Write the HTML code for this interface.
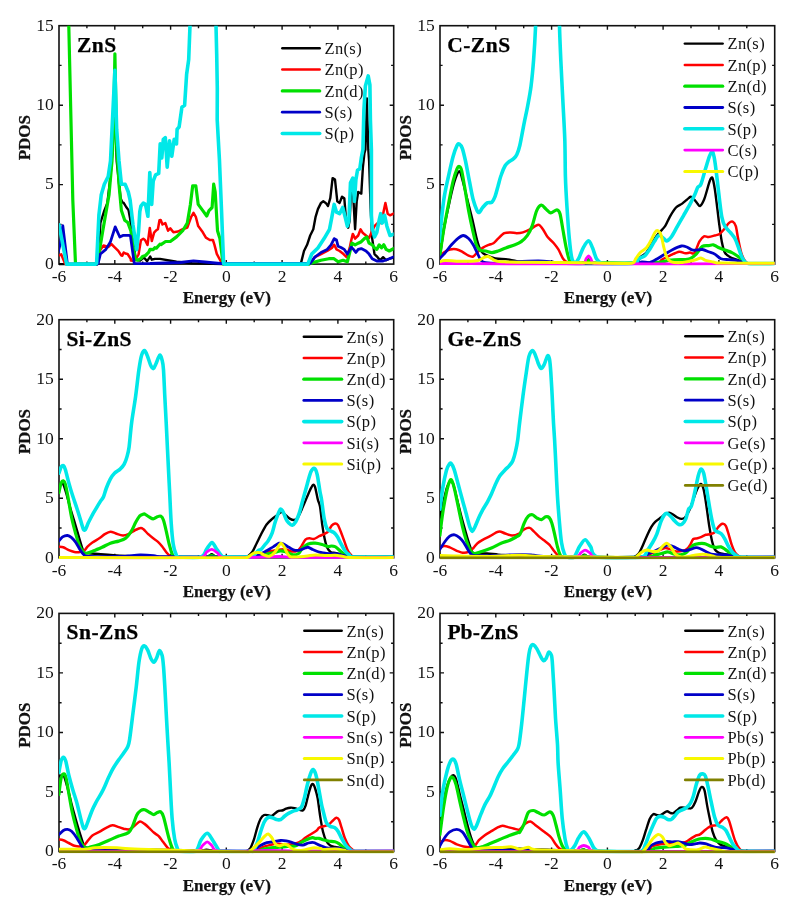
<!DOCTYPE html>
<html><head><meta charset="utf-8"><title>PDOS</title>
<style>
html,body{margin:0;padding:0;background:#fff;width:806px;height:903px;overflow:hidden}
svg{display:block;will-change:transform}
text{font-family:"Liberation Serif",serif;fill:#111}
.t{font-size:17.5px}
.b{font-size:17px;font-weight:bold;stroke:#111;stroke-width:0.25px}
.h{font-size:21.5px;font-weight:bold;fill:#000;stroke:#000;stroke-width:0.25px}
.l{font-size:16.5px;letter-spacing:0.35px}
</style></head><body>
<svg width="806" height="903" viewBox="0 0 806 903">
<rect width="806" height="903" fill="#fff"/>
<rect x="59" y="25.7" width="334.7" height="238.4" fill="none" stroke="#111" stroke-width="1.6"/>
<path d="M86.9 264.1v-2.6M86.9 25.7v2.6M114.8 264.1v-4.0M114.8 25.7v4.0M142.7 264.1v-2.6M142.7 25.7v2.6M170.6 264.1v-4.0M170.6 25.7v4.0M198.5 264.1v-2.6M198.5 25.7v2.6M226.3 264.1v-4.0M226.3 25.7v4.0M254.2 264.1v-2.6M254.2 25.7v2.6M282.1 264.1v-4.0M282.1 25.7v4.0M310 264.1v-2.6M310 25.7v2.6M337.9 264.1v-4.0M337.9 25.7v4.0M365.8 264.1v-2.6M365.8 25.7v2.6M59 224.4h2.6M393.7 224.4h-2.6M59 184.6h4.0M393.7 184.6h-4.0M59 144.9h2.6M393.7 144.9h-2.6M59 105.2h4.0M393.7 105.2h-4.0M59 65.4h2.6M393.7 65.4h-2.6" stroke="#111" stroke-width="1.4" fill="none"/>
<clipPath id="cp0"><rect x="59" y="25.7" width="334.7" height="240.2"/></clipPath>
<g clip-path="url(#cp0)" fill="none" stroke-linejoin="round" stroke-linecap="round">
<polyline points="58,264.1 97.5,264.1 98.1,263.3 100.4,223 104.3,210.6 107.4,202.9 110.5,176.5 112.8,145.5 114.6,98.3 116.7,161 120.6,198.2 122.3,202.3 123.7,202.9 126.2,207 128.5,210.1 130.1,218.6 132,232.6 134.3,246.5 135.5,259.7 140.2,260.5 144,257.4 147.1,261.2 150.2,256.6 151.8,259.7 154.9,258.9 160,258.9 176.5,261.7 192,263.2 223,264.1 300,264.1 300.9,263.4 304,251 307.1,244.8 310.2,235.5 313.3,229.3 315.6,216.8 317.9,209.1 321,202.9 323.3,201.3 325.7,202.9 328,206 330.3,198.2 332.6,178.1 335,179.6 337.3,201.3 339.6,202.9 342,196.7 344.3,198.2 345.8,216.8 348.2,227.7 349.7,220 351.3,185.8 352.8,188.9 355.1,229.3 356.7,201.3 358.2,192 361.3,193.6 362.9,167.2 364.4,153.3 365.4,149.7 366.9,98.4 368.3,149.7 369.1,161 370.6,207.5 372.2,238.6 374.5,254.1 377.6,257.2 380,260.3 383.1,257.2 386.2,260.3 389.3,258.7 395,257.2" stroke="#000000" stroke-width="2.4"/>
<polyline points="58,255.8 61.2,254.3 65,263.6 66,264.1 97,264.1 98,262 99.7,250.9 103.5,245.5 108.2,247 111.3,244 115.2,247.8 118.3,250.9 120,253.5 121.4,255.6 122.3,255.8 123.7,252.5 125.4,253.5 127.6,254 130.7,258.7 130.9,260.5 133.8,261 136.3,258.1 138.6,254.3 140.9,240.3 143.3,238.8 145,240 147.5,245 149.8,227.9 151.8,241.1 154.1,232.6 156.4,230.2 157.9,229.2 159.5,220.2 160.7,219.9 162.5,224.5 165.3,223 168,230.7 170.3,228.4 173.4,232.3 178,231.5 182.7,229.2 187.3,227.6 191.2,216.8 193.5,212.9 195.8,216.8 198.2,226.1 202.8,232.3 205.9,237.7 209.8,240 212.9,240 214.4,244.6 216.8,253.9 221.4,262.5 223,264.1 309,264.1 310.2,263.4 314.8,257.2 321,254.1 327.2,251 331.9,247.9 334.2,244.8 336.5,249.4 339.6,251 343.5,254.1 346.6,257.2 349.7,247.9 351.3,240.1 352.8,233.9 355.1,238.6 358.2,235.5 360.6,229.3 362.9,233.1 366,235.5 369.1,238 372.2,230.8 374.5,226.2 377.6,223.1 381.5,223.1 383.8,210.6 385.4,202.9 387.7,213.7 390,215.3 395,213" stroke="#ff0000" stroke-width="2.5"/>
<polyline points="68.2,0 68.8,26 72.8,200 75.5,264.1 96.5,264.1 98.1,258.7 102.8,230.8 109,195.1 112,161 113.6,130 114.9,53.9 116.7,145.5 119,184.3 121.4,210.6 124.7,220.2 127.8,222.5 130.9,231 133.2,246.5 135.5,259.7 138,260.1 140.8,258.6 142.5,256.6 145.5,255.5 148.6,252.4 150.1,249.3 153.3,249.6 154.8,247.7 156.4,248.1 159.9,244.2 161,244.6 165.6,241.5 170.3,241.5 176.5,236.9 182.7,230.7 187.3,223 190.4,204.4 192.7,185.8 195.8,185.8 198.2,204.4 202.8,210.6 206.7,216 209,210.6 212.1,207.5 213.7,184.2 215.2,192 217.5,230.7 219.9,238.5 223,263.2 223.5,264.1 309,264.1 310.2,263.4 321,260.3 328.8,258.7 334,258.7 338.1,261.8 343,260.3 347.4,261.8 349.7,252.5 352,243.2 355.1,244.8 358.2,243.2 361.3,241.7 364.4,238.6 366.8,237 369.1,243.2 372.2,244.8 374.5,247.9 376.8,249.4 379.2,244.8 381.5,247.9 383.8,244.8 386.2,249.4 389.3,251 395,247.9" stroke="#00e000" stroke-width="3.2"/>
<polyline points="58,252.7 60.4,243.4 62.8,225.6 67.4,264.1 97.2,264.1 98.1,263.3 100.4,254 105.9,249.4 110.5,241.6 115.2,226.9 119.8,237 122.9,235.4 128.3,235.4 129.3,235.3 130.5,236.4 134.3,263.6 150,263.5 180,262.5 193.5,260.9 205,262 220,263.5 310.2,263.4 314.8,257.2 321,252.5 327.2,249.4 331.1,244.8 334.2,238.6 336.5,240 338.1,246.3 341,247.5 344.3,249.4 347.4,254.1 351.3,247.1 353.5,249.4 355.9,252.5 358.2,249.4 361.3,248.6 366,251 369.1,254.1 372.2,258.7 376.8,261 383.1,261 389.3,258.7 395,256.4" stroke="#0000c8" stroke-width="2.8"/>
<polyline points="58,224.8 59,224.8 66.6,264.1 95.3,264.1 96.6,263.3 98.9,215.3 101.2,195.1 104.3,184.3 108.2,176.5 110.5,161 112,130 114.9,70.4 116.7,130 119,161 121.4,184.3 125.2,184.3 128.3,192 130.1,200 133,225 136.7,249.6 138.6,231 139.8,211.6 140.9,206.2 143.3,203.1 145.5,204.4 147.9,216.3 149.8,172.6 151.7,204.4 153.2,181.1 155.6,174.9 158.7,173.4 160.2,143.9 161.8,157.9 163.3,139.3 165.3,137.7 167.2,167.2 169.5,140.8 171.8,156.3 174.2,139.3 176.5,143.9 177.1,129.2 179.1,127.1 181.9,107.3 184.6,105.3 186.6,74.6 188.7,59.6 190,25.5 190.5,0 215.5,0 216,25.5 216.7,54.1 217.3,88.2 217.2,120 219.4,159 221.5,210 223.6,263.5 224,264.1 307.8,264.1 311.7,254.1 317.9,247.9 324.1,238.6 329.5,229.3 331.9,216.8 334.2,204.4 336.5,212.2 339.6,213.7 342.7,207.5 345.1,216.8 347.4,226.2 348.9,220 350.5,182.7 352.8,178.1 354.4,201.3 355.9,179.6 357.5,170.3 359.8,168.8 361.3,157.9 362.9,149.7 363.9,109.8 365.4,85.9 368.2,75.9 369.9,84.9 370.4,119.8 371.4,149.7 371.4,215.3 372.2,227.7 374.5,237 376.8,232.4 379.2,220 380.7,213.7 382.3,223.1 384.6,215.3 386.9,226.2 390,235.5 395,233.9" stroke="#00e8e8" stroke-width="3.6"/>
</g>
<text x="53.8" y="268.9" class="t" text-anchor="end">0</text>
<text x="53.8" y="189.4" class="t" text-anchor="end">5</text>
<text x="53.8" y="110" class="t" text-anchor="end">10</text>
<text x="53.8" y="30.5" class="t" text-anchor="end">15</text>
<text x="59" y="281.9" class="t" text-anchor="middle">-6</text>
<text x="114.8" y="281.9" class="t" text-anchor="middle">-4</text>
<text x="170.6" y="281.9" class="t" text-anchor="middle">-2</text>
<text x="226.3" y="281.9" class="t" text-anchor="middle">0</text>
<text x="282.1" y="281.9" class="t" text-anchor="middle">2</text>
<text x="337.9" y="281.9" class="t" text-anchor="middle">4</text>
<text x="393.7" y="281.9" class="t" text-anchor="middle">6</text>
<text x="226.9" y="303.3" class="b" text-anchor="middle">Energy (eV)</text>
<text transform="translate(30.4,137.7) rotate(-90)" class="b" text-anchor="middle">PDOS</text>
<text x="77" y="52.2" class="h" letter-spacing="0.5">ZnS</text>
<line x1="282.3" y1="48.3" x2="319.7" y2="48.3" stroke="#000000" stroke-width="2.4" stroke-linecap="round"/>
<text x="324.5" y="54" class="l">Zn(s)</text>
<line x1="282.3" y1="69.6" x2="319.7" y2="69.6" stroke="#ff0000" stroke-width="2.5" stroke-linecap="round"/>
<text x="324.5" y="75.3" class="l">Zn(p)</text>
<line x1="282.3" y1="90.9" x2="319.7" y2="90.9" stroke="#00e000" stroke-width="3.2" stroke-linecap="round"/>
<text x="324.5" y="96.6" class="l">Zn(d)</text>
<line x1="282.3" y1="112.2" x2="319.7" y2="112.2" stroke="#0000c8" stroke-width="2.8" stroke-linecap="round"/>
<text x="324.5" y="117.9" class="l">S(s)</text>
<line x1="282.3" y1="133.5" x2="319.7" y2="133.5" stroke="#00e8e8" stroke-width="3.6" stroke-linecap="round"/>
<text x="324.5" y="139.2" class="l">S(p)</text>
<rect x="440" y="25.7" width="334.7" height="238.4" fill="none" stroke="#111" stroke-width="1.6"/>
<path d="M467.9 264.1v-2.6M467.9 25.7v2.6M495.8 264.1v-4.0M495.8 25.7v4.0M523.7 264.1v-2.6M523.7 25.7v2.6M551.6 264.1v-4.0M551.6 25.7v4.0M579.5 264.1v-2.6M579.5 25.7v2.6M607.4 264.1v-4.0M607.4 25.7v4.0M635.2 264.1v-2.6M635.2 25.7v2.6M663.1 264.1v-4.0M663.1 25.7v4.0M691 264.1v-2.6M691 25.7v2.6M718.9 264.1v-4.0M718.9 25.7v4.0M746.8 264.1v-2.6M746.8 25.7v2.6M440 224.4h2.6M774.7 224.4h-2.6M440 184.6h4.0M774.7 184.6h-4.0M440 144.9h2.6M774.7 144.9h-2.6M440 105.2h4.0M774.7 105.2h-4.0M440 65.4h2.6M774.7 65.4h-2.6" stroke="#111" stroke-width="1.4" fill="none"/>
<clipPath id="cp1"><rect x="440" y="25.7" width="334.7" height="240.2"/></clipPath>
<g clip-path="url(#cp1)" fill="none" stroke-linejoin="round" stroke-linecap="round">
<path d="M439.4 260.4C440.1 255.7 442.2 238.4 443.8 229.3C445.4 220.2 448.4 207 450 199.8C451.6 192.6 453.2 185.5 454.6 181.2C456 176.9 458.1 171.3 459.3 171.1C460.5 170.9 461.2 175.6 462.4 179.7C463.6 183.8 465.5 192.3 467 198.3C468.5 204.3 471 213.7 472.5 220C474 226.3 475.8 235.5 477.1 240.2C478.4 244.8 479.7 248.8 481 251C482.3 253.2 484.1 254 485.7 254.9C487.3 255.8 490 256.7 491.9 257.3C493.8 257.9 496 258.5 498.1 258.8C500.2 259.1 503 258.8 505.8 259.1C508.6 259.4 513.7 260.7 516.7 261.1C519.7 261.5 519.3 261.7 526 261.9C532.7 262.1 553.4 262.4 561.5 262.6C569.6 262.8 576.5 263.4 580 263.3C583.5 263.2 583.7 262.6 585 262C586.3 261.4 587.6 259.5 588.6 259.5C589.6 259.5 590.9 261.4 592 262C593.1 262.6 592 263.1 596 263.3C602.3 263.5 627.5 264.2 634.1 263.3C640.3 262.4 638.4 258.7 640.3 257.1C642.2 255.5 644.6 254.8 646.5 252.5C648.4 250.2 650.8 244.5 652.7 241.6C654.6 238.7 657 235.4 658.9 233.1C660.8 230.8 663.5 228.5 665.1 226.1C666.7 223.7 668.2 219.6 669.8 216.8C671.4 214 674.1 209.5 676 207.5C677.9 205.5 680.6 204.8 682.2 203.6C683.8 202.4 685.5 200.8 686.8 199.8C688.1 198.8 689.7 196.8 690.7 196.7C691.8 196.6 692.9 198.1 693.8 199C694.7 199.9 696.1 201.8 697 202.9C697.9 204 699.1 206.5 700.1 206C701.1 205.5 702.8 202.6 704 199.8C705.2 197 706.9 190.4 707.8 187.4C708.7 184.4 709.5 181.1 710.2 179.7C710.9 178.3 711.8 176.7 712.5 178.1C713.2 179.5 714.1 184.6 714.8 189C715.5 193.4 716.5 202 717.2 207.6C717.9 213.2 718.8 221.1 719.5 226.2C720.2 231.3 721 237.7 721.8 241.7C722.6 245.7 723.6 250.3 724.9 252.6C726.2 254.9 728.5 256.2 730.3 257.3C732.1 258.4 734.7 258.9 736.6 259.6C738.5 260.3 740.9 261.3 742.8 261.9C744.7 262.5 744 263.3 749 263.5C754 263.7 772 263.5 776 263.5" stroke="#000000" stroke-width="2.4"/>
<path d="M439.4 257.3C440.1 256.6 442.2 253.8 443.8 252.6C445.4 251.4 448.1 250 450 249.5C451.9 249 454.3 248.9 456.2 249.2C458.1 249.5 460.5 250.8 462.4 251.8C464.3 252.8 467 255 468.6 255.7C470.2 256.4 471.9 257 473.2 256.5C474.5 256 475.7 253.9 477.1 252.6C478.5 251.3 480.8 249.1 482.6 247.9C484.4 246.7 487.2 245.5 488.8 244.8C490.4 244.1 492 244.2 493.4 243.3C494.8 242.4 496.5 240.1 498.1 238.6C499.7 237.1 502.4 234.1 504.3 233.2C506.2 232.3 508.6 232.4 510.5 232.4C512.4 232.4 514.8 233.2 516.7 233.2C518.6 233.2 520.8 233 522.9 232.4C525 231.8 528.7 230.1 530.5 229.2C532.3 228.3 533.9 226.7 535.2 226.1C536.5 225.5 537.8 224.4 539 224.9C540.2 225.4 541.6 227.4 542.9 229.2C544.2 231 546 234.9 547.6 237C549.2 239.1 552.2 241.3 553.8 243.2C555.4 245.1 557 247.1 558.4 249.4C559.8 251.7 561.7 256.7 563.1 258.7C564.5 260.7 566.4 261.9 567.7 262.6C569 263.3 567.7 263.4 572 263.5C585 263.6 640.8 263.9 654.3 263.3C662 262.7 659.7 260.7 662 259.5C664.3 258.3 667.2 256.8 669.8 255.6C672.4 254.4 676.8 252 679.1 251.7C681.4 251.4 683.7 253.2 685.3 253.3C686.9 253.4 688.6 252.6 690 252.6C691.4 252.6 693.1 254.6 694.5 253C695.9 251.4 697.9 244.2 699.3 241.7C700.7 239.2 702.6 237 704 236.3C705.4 235.6 707 237.2 708.6 237.1C710.2 237 713.2 236 714.8 235.5C716.4 235 718.1 234.9 719.5 234C720.9 233.1 722.7 230.9 724.1 229.3C725.5 227.7 727.5 224.3 728.8 223.1C730.1 221.9 731.7 221.1 732.7 221.6C733.8 222.1 735 223.6 735.8 226.2C736.6 228.8 737.3 234.6 738.1 238.6C738.9 242.6 740.2 249.2 741.2 252.6C742.2 256 743.9 259.5 745.1 261.1C746.3 262.7 745.1 263.1 749 263.5C753.6 263.9 772 263.5 776 263.5" stroke="#ff0000" stroke-width="2.5"/>
<path d="M439.4 258.8C440.1 254.4 442.4 237.4 443.8 229.3C445.2 221.2 447 211.7 448.4 204.5C449.8 197.3 451.8 186.6 453.1 181.2C454.4 175.8 456.1 171 457 168.8C457.9 166.6 458.6 166.3 459.3 166.5C460 166.7 460.8 167.2 461.6 170.3C462.4 173.4 463.6 181.3 464.7 187.4C465.8 193.5 467.4 204.4 468.6 210.7C469.8 217 471.3 224.2 472.5 229.3C473.7 234.4 475.1 241.7 476.3 244.8C477.5 248 478.8 249.4 480.2 250.3C481.6 251.2 483.9 250.7 485.7 251C487.5 251.3 490 252.6 491.9 252.6C493.8 252.6 496 251.7 498.1 251C500.2 250.3 503.3 248.8 505.8 247.9C508.3 247 512.7 245.6 515 244.7C517.3 243.8 519.3 243 521.2 241.6C523.1 240.2 525.8 237.7 527.4 235.4C529 233.1 530.7 229.8 532.1 226.1C533.5 222.4 535.3 213.7 536.7 210.6C538.1 207.5 540 205.4 541.4 205.2C542.8 205 544.6 207.9 546 209.1C547.4 210.3 549.1 212.8 550.7 212.9C552.3 213 555.5 209.7 556.9 209.8C558.3 209.9 559.1 210.5 560 213.7C560.9 216.8 562.2 225.7 563.1 230.8C564 235.9 565.2 243.2 566.2 247.8C567.2 252.5 568.8 259.5 570 261.8C571.2 264.1 571.6 263.2 573.9 263.3C576.1 263.4 582.8 262.9 585 262.5C587.2 262.1 587.6 260.5 588.6 260.5C589.6 260.5 588.6 262.2 592 262.5C601.9 262.8 642.6 262.9 654.3 262.6C666 262.3 665.1 260.7 669.8 260.2C674.4 259.7 682.3 259.7 685.3 259.5C688.3 259.3 688.4 259.6 690 258.8C691.6 258 694.3 256 696.2 254.1C698.1 252.2 700.5 247.7 702.4 246.4C704.3 245.1 707 245.8 708.6 245.6C710.2 245.4 711.9 244.6 713.3 244.8C714.7 245 716 246.4 717.9 247.2C719.8 248 723.6 249.5 725.7 250.3C727.8 251.1 730 251.7 731.9 252.6C733.8 253.5 736.5 255.3 738.1 256.5C739.7 257.7 741.4 259.3 742.8 260.4C744.2 261.4 742.8 263 747.4 263.5C752.4 264 771.7 263.5 776 263.5" stroke="#00e000" stroke-width="3.2"/>
<path d="M439.4 258.8C440.3 257.9 443.5 254.7 445.3 252.6C447.1 250.5 449.6 246.9 451.5 244.8C453.4 242.7 455.9 240 457.7 238.6C459.5 237.2 461.6 235.5 463.2 235.5C464.8 235.5 467.1 237.2 468.6 238.6C470.1 240 471.9 242.7 473.2 244.8C474.5 246.9 475.9 250.3 477.1 252.6C478.3 254.9 479.7 258.9 481 260.4C482.3 261.9 482.8 262.3 485.7 262.7C488.6 263.1 495.6 263.4 500 263.3C504.4 263.2 509.3 262.1 515 261.8C520.7 261.5 532.8 261 538.3 261C543.8 261 548 261.6 552 262C556 262.4 552.7 263.3 565 263.5C577.3 263.7 622.6 263.6 634.1 263.3C641.9 263 639.6 261.9 641.9 261.8C644.2 261.7 647.3 263.1 649.6 262.6C651.9 262.1 655.1 260 657.4 258.7C659.7 257.4 662.8 255.4 665.1 254C667.4 252.6 670.5 250.6 672.9 249.4C675.3 248.2 679.3 246.4 681.4 246C683.5 245.6 685.1 246.4 686.8 247C688.5 247.6 690.7 249.8 693 250.2C695.3 250.6 700.1 249.3 702.4 249.5C704.7 249.7 706.7 251.1 708.6 251.8C710.5 252.5 712.9 253 714.8 254.1C716.7 255.2 718.9 258 721 258.8C723.1 259.6 726.5 259.4 728.8 259.6C731.1 259.8 734.3 259.9 736.6 260.4C738.9 260.9 742.3 262.2 744.3 262.7C746.3 263.2 745.2 263.4 750 263.5C754.8 263.6 772.1 263.5 776 263.5" stroke="#0000c8" stroke-width="2.8"/>
<path d="M439.1 241.7C439.8 235.4 442.4 209.6 443.8 199.8C445.2 190 447 183.1 448.4 176.6C449.8 170.1 451.8 161.1 453.1 156.4C454.4 151.7 456.1 147.4 457 145.5C457.9 143.6 458.5 143.5 459.3 144C460.1 144.5 461.5 146 462.4 148.6C463.3 151.2 464.4 156.1 465.5 161C466.6 165.9 468.2 175.4 469.4 181.2C470.6 187 472 195.4 473.2 199.8C474.4 204.2 476.2 208.8 477.1 210.7C478 212.6 478.7 212.7 479.5 212.2C480.3 211.7 481.4 209 482.6 207.6C483.8 206.2 485.8 203.7 487.2 202.9C488.6 202.1 490.7 203.1 491.9 202.2C493.1 201.3 494.1 199.1 495 196.7C495.9 194.3 497.2 189.2 498.1 185.9C499 182.6 500.1 178 501.2 175C502.2 172 503.9 167.7 505.1 165.7C506.3 163.7 507.6 162.9 508.9 161.8C510.2 160.8 512.4 159.8 513.6 158.7C514.8 157.6 515.8 156.8 516.7 154.8C517.6 152.8 518.7 150.4 519.8 145.5C520.9 140.6 523.1 128.2 524.3 122.3C525.5 116.4 526.6 111.7 527.6 106.3C528.6 100.9 530.1 93.4 531 86.4C531.9 79.4 532.9 68.9 533.6 59.8C534.3 50.7 535.2 35 535.6 26C536 17 535.6 3.9 536 0C539.6 -3.9 555.8 -3.9 559.3 0C559.5 3.9 559.3 17 559.5 26C559.7 35 560.3 48.7 560.8 59.8C561.3 70.9 562.2 87.7 562.8 99.7C563.4 111.7 564.4 128 564.8 139.5C565.2 151 565.1 166.3 565.4 176.5C565.7 186.7 566.4 198.2 567 207.5C567.6 216.8 568.6 231.1 569.3 238.5C570 245.9 570.8 253.5 571.6 257.1C572.4 260.7 573.7 262.4 574.7 262.6C575.8 262.8 577.3 260.9 578.6 258.7C579.9 256.5 581.7 250.5 583.2 247.8C584.7 245.1 587.2 240.9 588.6 240.9C590 240.9 591.3 245.1 592.5 247.8C593.7 250.5 595.2 256.5 596.4 258.7C597.6 260.9 599.3 261.9 600.3 262.6C601.3 263.3 600.3 263.4 603 263.5C608.1 263.6 628.7 264 634.1 263.3C638.8 262.6 637.2 259.9 638.8 258.7C640.4 257.5 643.4 257 645 255.6C646.6 254.2 648.2 251.5 649.6 249.4C651 247.3 652.9 243.7 654.3 241.6C655.7 239.5 657.5 235.9 658.9 235.4C660.3 234.9 662.4 237.7 663.6 238.5C664.8 239.3 665.5 241.1 666.7 240.9C667.9 240.7 669.7 239.2 671.3 237C672.9 234.8 675.6 229.4 677.5 226.1C679.4 222.8 681.8 218.6 683.7 215.3C685.6 212 688.3 207.4 689.9 204.4C691.5 201.4 693.4 197.7 694.6 195.1C695.8 192.5 696.8 189 697.7 187.4C698.6 185.8 699.7 187.1 700.9 184.3C702.1 181.5 704.2 173 705.5 168.8C706.8 164.6 708.4 159 709.4 156.4C710.4 153.8 711.7 151 712.5 151.7C713.3 152.4 714.1 156.8 714.8 161C715.5 165.2 716.5 173.9 717.2 179.7C717.9 185.5 718.8 194.2 719.5 199.8C720.2 205.4 721 212.9 721.8 216.9C722.6 220.9 723.6 223.9 724.9 226.2C726.2 228.5 728.8 230.5 730.3 232.4C731.8 234.3 733.8 236.5 735 238.6C736.2 240.7 737.1 243.6 738.1 246.4C739.1 249.2 740.8 254.9 742 257.3C743.2 259.7 744.6 261.8 745.9 262.7C747.2 263.6 746 263.4 750.5 263.5C755 263.6 772.2 263.5 776 263.5" stroke="#00e8e8" stroke-width="3.6"/>
<path d="M439 263.5C460.6 263.5 561.2 264.2 583.2 263.5C586 262.8 585.2 260.1 586 259C586.8 257.9 587.9 255.9 588.6 255.9C589.4 255.9 590.2 257.9 591 259C591.8 260.1 591 262.8 594.1 263.5C621.9 264.2 748.7 263.5 776 263.5" stroke="#ff00ff" stroke-width="2.8"/>
<path d="M439 261.9C439.9 261.7 442.2 260.5 445.3 260.4C448.4 260.3 455.1 261.3 460 261.3C464.9 261.3 474.3 261 477.9 260.4C481.5 259.8 482.6 257.9 484.1 257.3C485.6 256.7 486.8 256.3 488 256.5C489.2 256.7 490.6 258.1 491.9 258.8C493.2 259.5 494.4 260.6 496.5 261.1C498.6 261.6 501.4 261.7 505.8 261.9C510.2 262.1 514.9 262.1 526 262.2C537.1 262.3 564.1 262.6 580 262.8C595.9 263 623.4 263.9 631.8 263.3C635.7 262.7 634.4 260.3 635.7 258.7C637 257.1 638.7 254.1 640.3 252.5C641.9 250.9 644.9 249.7 646.5 247.8C648.1 245.9 649.9 242.4 651.2 240.1C652.5 237.8 654 233.7 655 232.3C656 230.9 657.2 230.3 658.1 230.8C659 231.3 660.4 233.1 661.2 235.4C662 237.7 662.8 243 663.6 246.3C664.4 249.6 665.5 254.8 666.7 257.1C667.9 259.4 669.2 261 671.3 261.8C673.4 262.6 677.8 262.7 680.6 262.6C683.4 262.5 687.7 261.6 690 261.1C692.3 260.7 694.6 260.1 696.2 259.6C697.8 259.1 699.5 257.9 700.9 258C702.3 258.1 703.6 259.8 705.5 260.4C707.4 261 711 261.5 713.3 261.9C715.6 262.3 713.3 262.9 721 263.1C730.4 263.3 767.8 263.3 776 263.3" stroke="#f8f800" stroke-width="3.0"/>
</g>
<text x="434.8" y="268.9" class="t" text-anchor="end">0</text>
<text x="434.8" y="189.4" class="t" text-anchor="end">5</text>
<text x="434.8" y="110" class="t" text-anchor="end">10</text>
<text x="434.8" y="30.5" class="t" text-anchor="end">15</text>
<text x="440" y="281.9" class="t" text-anchor="middle">-6</text>
<text x="495.8" y="281.9" class="t" text-anchor="middle">-4</text>
<text x="551.6" y="281.9" class="t" text-anchor="middle">-2</text>
<text x="607.4" y="281.9" class="t" text-anchor="middle">0</text>
<text x="663.1" y="281.9" class="t" text-anchor="middle">2</text>
<text x="718.9" y="281.9" class="t" text-anchor="middle">4</text>
<text x="774.7" y="281.9" class="t" text-anchor="middle">6</text>
<text x="608" y="303.3" class="b" text-anchor="middle">Energy (eV)</text>
<text transform="translate(411.4,137.7) rotate(-90)" class="b" text-anchor="middle">PDOS</text>
<text x="447.2" y="52.3" class="h" letter-spacing="0.5">C-ZnS</text>
<line x1="684.8" y1="43.6" x2="722.7" y2="43.6" stroke="#000000" stroke-width="2.4" stroke-linecap="round"/>
<text x="727.5" y="49.3" class="l">Zn(s)</text>
<line x1="684.8" y1="64.9" x2="722.7" y2="64.9" stroke="#ff0000" stroke-width="2.5" stroke-linecap="round"/>
<text x="727.5" y="70.6" class="l">Zn(p)</text>
<line x1="684.8" y1="86.2" x2="722.7" y2="86.2" stroke="#00e000" stroke-width="3.2" stroke-linecap="round"/>
<text x="727.5" y="91.9" class="l">Zn(d)</text>
<line x1="684.8" y1="107.5" x2="722.7" y2="107.5" stroke="#0000c8" stroke-width="2.8" stroke-linecap="round"/>
<text x="727.5" y="113.2" class="l">S(s)</text>
<line x1="684.8" y1="128.8" x2="722.7" y2="128.8" stroke="#00e8e8" stroke-width="3.6" stroke-linecap="round"/>
<text x="727.5" y="134.5" class="l">S(p)</text>
<line x1="684.8" y1="150.1" x2="722.7" y2="150.1" stroke="#ff00ff" stroke-width="2.8" stroke-linecap="round"/>
<text x="727.5" y="155.8" class="l">C(s)</text>
<line x1="684.8" y1="171.4" x2="722.7" y2="171.4" stroke="#f8f800" stroke-width="3.0" stroke-linecap="round"/>
<text x="727.5" y="177.1" class="l">C(p)</text>
<rect x="59" y="319.7" width="334.7" height="238.1" fill="none" stroke="#111" stroke-width="1.6"/>
<path d="M86.9 557.8v-2.6M86.9 319.7v2.6M114.8 557.8v-4.0M114.8 319.7v4.0M142.7 557.8v-2.6M142.7 319.7v2.6M170.6 557.8v-4.0M170.6 319.7v4.0M198.5 557.8v-2.6M198.5 319.7v2.6M226.3 557.8v-4.0M226.3 319.7v4.0M254.2 557.8v-2.6M254.2 319.7v2.6M282.1 557.8v-4.0M282.1 319.7v4.0M310 557.8v-2.6M310 319.7v2.6M337.9 557.8v-4.0M337.9 319.7v4.0M365.8 557.8v-2.6M365.8 319.7v2.6M59 528h2.6M393.7 528h-2.6M59 498.3h4.0M393.7 498.3h-4.0M59 468.5h2.6M393.7 468.5h-2.6M59 438.8h4.0M393.7 438.8h-4.0M59 409h2.6M393.7 409h-2.6M59 379.2h4.0M393.7 379.2h-4.0M59 349.5h2.6M393.7 349.5h-2.6" stroke="#111" stroke-width="1.4" fill="none"/>
<clipPath id="cp2"><rect x="59" y="319.7" width="334.7" height="239.9"/></clipPath>
<g clip-path="url(#cp2)" fill="none" stroke-linejoin="round" stroke-linecap="round">
<path d="M58.9 487.1C59.2 486.7 60.5 484.7 61.2 484.3C61.9 483.9 62.6 483.1 63.3 484.3C64 485.5 65.1 489.1 66.1 492.6C67.1 496.1 69 503.4 70.2 507.8C71.4 512.2 73.2 517.5 74.4 521.7C75.6 525.9 77.3 531.3 78.5 535.5C79.7 539.7 81.8 546.8 82.7 549.4C83.6 552 83.6 552.2 84.8 552.8C86 553.4 88.6 553.3 91 553.5C93.4 553.7 97.4 553.9 100.7 554.2C104 554.5 109.3 554.9 113.2 555.2C117.1 555.5 122.4 555.8 127 556C131.6 556.2 137.2 556.5 143.6 556.6C150 556.8 160.8 556.9 170 557C179.2 557.1 198.7 557.4 205 557C211.3 556.6 209.8 554.2 211.7 554.2C213.6 554.2 212.9 556.6 218 557C223.1 557.4 241.6 557 246 557C247.4 557 246.4 557.6 247.4 556.8C248.4 556 251 553.8 252.4 551.8C253.8 549.8 255.4 545.8 256.7 543.2C258 540.6 259.5 537.3 261 534.5C262.5 531.7 264.9 526.8 266.6 524.5C268.3 522.2 270.5 520.4 272.2 518.9C273.9 517.4 276.3 515.8 277.7 514.8C279.1 513.8 280.6 511.9 281.8 512C283 512.1 284.7 514.5 286 515.5C287.3 516.5 289 518.2 290.2 518.9C291.4 519.6 293.2 520.2 294.3 520C295.4 519.8 296.8 518.9 297.8 517.5C298.8 516.1 300.1 513.1 301.2 510.6C302.3 508.1 304.2 503.8 305.4 500.9C306.6 498 308.4 493.6 309.5 491.2C310.6 488.8 312.2 485.6 313 485C313.8 484.4 314.4 484.9 315.1 487.1C315.8 489.3 317.1 496.6 317.8 499.5C318.5 502.4 319.3 502.7 320 506.5C320.7 510.3 321.6 520.2 322.3 525.1C323 530 324 535.8 324.7 539.1C325.4 542.4 326.1 545.3 327 547.2C327.9 549.1 329.3 551 330.5 551.9C331.7 552.8 333.5 552.7 335.1 553C336.7 553.3 339.2 553.8 340.9 554.2C342.6 554.6 345 555.5 346.7 555.9C348.4 556.3 346.7 556.8 352 557C359.2 557.2 388.6 557 395 557" stroke="#000000" stroke-width="2.4"/>
<path d="M58.9 546.6C59.6 546.7 61.8 546.8 63.3 547.3C64.8 547.8 67.1 549.4 68.8 550.1C70.5 550.8 72.7 551.6 74.4 551.9C76.1 552.2 78.3 552.2 79.9 551.9C81.5 551.6 83.7 550.9 84.8 550.1C85.9 549.3 86.4 547.7 87.5 546.6C88.6 545.5 90.6 543.7 92.4 542.5C94.2 541.3 97.4 539.5 99.3 538.3C101.2 537.1 103.1 535.2 104.8 534.2C106.5 533.2 108.7 531.8 110.4 531.7C112.1 531.6 114 532.9 115.9 533.5C117.8 534.1 120.9 535.4 122.8 535.5C124.7 535.6 126.5 535 128.4 534.2C130.3 533.4 133.4 530.9 135.3 530C137.2 529.1 139.6 528 140.8 527.9C142 527.8 142.4 528.4 143.5 529.3C144.6 530.2 146.8 532.9 148.3 534.2C149.8 535.6 151.7 537.2 153.2 538.3C154.7 539.4 156.7 540.6 158 541.8C159.3 543 161 545 162.2 546.6C163.4 548.2 165.1 550.7 166.3 552.2C167.5 553.7 169.5 555.5 170.5 556.3C171.5 557 170.5 557.1 173 557.2C184.9 557.3 237.2 557.5 250 557.2C258.3 556.9 255.8 555.6 258.3 554.9C260.8 554.1 264.3 552.8 266.6 552.2C268.9 551.6 271.4 551.2 273.5 550.8C275.6 550.4 278.6 549.6 280.5 549.4C282.4 549.2 284.4 549.1 286 549.4C287.6 549.7 289.8 551.3 291.5 551.5C293.2 551.7 295.6 551.5 297.1 550.8C298.6 550.1 300 548.3 301.2 546.6C302.4 544.9 304.2 540.9 305.4 539.7C306.6 538.5 308.3 538.4 309.5 538.3C310.7 538.2 312.2 539.3 313.7 539C315.2 538.7 317.6 537 319.2 536.2C320.8 535.4 323.4 534.5 324.7 533.8C326 533.1 327.1 532.7 328.1 531.5C329.1 530.3 330.6 526.9 331.6 525.7C332.7 524.5 334.1 523.5 335.1 523.4C336.1 523.3 337.1 523.8 338 525.1C338.9 526.4 339.9 529.7 340.9 532.1C341.9 534.5 343.3 538.6 344.4 541.4C345.4 544.2 346.8 548.6 347.9 550.7C348.9 552.8 350.5 554.4 351.4 555.3C352.3 556.2 351.4 556.7 354 557C360.5 557.3 388.9 557 395 557" stroke="#ff0000" stroke-width="2.5"/>
<path d="M58.9 492.6C59.2 491.1 60.5 484.7 61.2 482.9C61.9 481.1 62.7 480.6 63.3 480.8C63.9 481 64.7 481.7 65.4 484.3C66.1 486.9 67.3 493.2 68.2 498.2C69.1 503.2 70.5 512.1 71.6 517.5C72.7 522.9 74.6 529.8 75.8 534.2C77 538.6 78.7 543.8 79.9 546.6C81.1 549.4 82.9 551.9 84.1 552.8C85.3 553.7 86.7 553.1 88.2 552.8C89.7 552.5 91.7 551.6 93.8 550.8C95.9 550 99.6 548.4 102.1 547.3C104.6 546.2 107.9 544.1 110.4 543.2C112.9 542.3 116.4 541.8 118.7 541.1C121 540.4 123.7 539.8 125.6 538.3C127.5 536.8 129.7 533.7 131.2 531.4C132.7 529.1 134.1 525.4 135.3 523.1C136.5 520.8 138.3 517.6 139.5 516.2C140.7 514.9 142.8 514.4 143.6 514.1C144.4 513.8 144 513.7 144.8 514.1C145.6 514.5 147.7 516.1 149 516.8C150.3 517.5 152 518.9 153.2 518.9C154.4 518.9 156.2 517.2 157.3 516.8C158.4 516.4 159.9 515.7 160.8 516.2C161.7 516.7 162.7 518 163.5 520.3C164.3 522.6 165.5 527.9 166.3 531.4C167.1 534.9 168.2 540.4 169.1 543.9C170 547.4 171.7 552.9 172.5 554.9C173.3 556.9 172.5 556.7 174.6 557C179.5 557.3 199.4 557.2 205 557C210.6 556.8 209.8 555.5 211.7 555.5C213.6 555.5 212.3 556.8 218 557C223.7 557.2 244 557.3 250 557C256 556.7 255.8 555.3 258.3 554.9C260.8 554.5 264.3 554.5 266.6 554.2C268.9 553.9 271.4 553.3 273.5 552.8C275.6 552.3 278.6 550.9 280.5 550.8C282.4 550.7 284.1 551.3 286 551.9C287.9 552.5 291 554.7 292.9 554.9C294.8 555.1 297 554.5 298.5 553.5C300 552.5 301.1 549.4 302.6 548C304.1 546.6 306.3 544.6 308.2 543.9C310.1 543.2 313 543.1 315.1 543.2C317.2 543.3 320.1 544 322 544.5C323.9 545 326.7 546.4 328.1 546.6C329.5 546.8 330.6 546 331.6 546C332.7 546 334.1 546.1 335.1 546.6C336.2 547.1 337.4 548.5 338.6 549.5C339.8 550.5 341.9 552.6 343.3 553.6C344.7 554.6 346.6 555.4 347.9 555.9C349.2 556.4 347.9 556.8 352 557C359.1 557.2 388.6 557 395 557" stroke="#00e000" stroke-width="3.2"/>
<path d="M58.9 541.1C59.5 540.5 61.3 537.7 62.6 536.9C63.9 536.1 66.2 535.4 67.5 535.5C68.8 535.6 70.4 536.6 71.6 537.6C72.8 538.6 74.6 540.7 75.8 542.5C77 544.3 78.7 547.5 79.9 549.4C81.1 551.3 82.9 553.9 84.1 554.9C85.3 555.9 84.1 556.1 88.2 556.3C93.6 556.5 112.2 556.7 120 556.5C127.8 556.3 134.9 555 140 554.9C145.1 554.8 150.5 555.3 153.8 555.6C157.1 555.9 153.8 556.5 162.2 556.7C175.9 556.9 231.8 557 245 557C250 557 248 557.3 250 557C252 556.7 255.8 555.8 258.3 554.9C260.8 554 264.3 552 266.6 550.8C268.9 549.6 271.6 547.7 273.5 546.6C275.4 545.5 277.6 543.6 279.1 543.2C280.6 542.8 281.7 543.3 283.2 543.9C284.7 544.5 287.1 546.4 288.8 547.3C290.5 548.2 292.7 549.7 294.3 550.1C295.9 550.5 298.1 550.4 299.8 550.1C301.5 549.8 304.1 548.4 305.4 548C306.7 547.6 307.2 547.1 308.2 547.3C309.2 547.5 310.7 548.7 312.3 549.4C313.9 550.1 317.5 551.7 319.2 552.2C320.9 552.7 322 552.8 323.5 553C325 553.2 327.6 553.5 329.3 553.6C331 553.7 333.4 553.4 335.1 553.6C336.8 553.8 339.2 554.4 340.9 554.8C342.6 555.2 345 556 346.7 556.3C348.4 556.6 346.7 556.9 352 557C359.2 557.1 388.6 557 395 557" stroke="#0000c8" stroke-width="2.8"/>
<path d="M58.9 473.2C59.2 472.3 60.5 468.1 61.2 467C61.9 465.9 62.7 465.2 63.3 465.6C63.9 466 64.6 467.2 65.4 469.8C66.2 472.4 67.7 478.8 68.8 482.9C69.9 486.9 71.7 492.9 73 496.8C74.3 500.7 76.1 505.7 77.2 509.2C78.3 512.7 79.7 517.3 80.6 520.3C81.5 523.3 82.7 527.9 83.4 529.3C84.1 530.6 84.8 530.2 85.5 529.3C86.2 528.4 87.2 525.3 88.2 523.1C89.2 520.9 91.2 517.1 92.4 514.8C93.6 512.5 95.3 509.9 96.5 507.8C97.7 505.7 99.7 502.5 100.7 500.9C101.8 499.2 102.7 498.7 103.5 496.8C104.3 494.9 105.2 491.2 106.2 488.5C107.2 485.8 109.2 481.1 110.4 478.8C111.6 476.5 113 474.7 114.5 473.2C116 471.7 118.6 470.5 120.1 469.1C121.6 467.8 123.2 466.1 124.2 464.2C125.2 462.3 126.3 459.2 127 456.6C127.7 454 128.4 452 129.1 446.9C129.8 441.8 130.6 430.5 131.6 422.9C132.6 415.3 134.5 404.4 135.6 396.4C136.7 388.4 138 376 138.9 369.8C139.8 363.6 140.7 358.1 141.6 355.2C142.5 352.3 143.7 350.4 144.6 350.6C145.5 350.8 146.7 354.2 147.6 356.5C148.5 358.8 150 364 150.9 365.8C151.8 367.6 152.7 368.9 153.5 368.5C154.3 368.1 155.3 365.2 156.2 363.2C157.1 361.2 158.9 355.6 159.8 355.2C160.7 354.8 161.6 358.3 162.2 360.5C162.8 362.7 163.1 364.4 163.5 369.8C163.9 375.2 164.4 388.4 164.8 396.4C165.2 404.4 165.8 414.9 166.2 422.9C166.6 430.9 167.2 442.8 167.5 449.5C167.8 456.2 168.1 460.8 168.4 467.7C168.7 474.6 169.4 487.1 169.8 495.4C170.2 503.7 170.7 515.8 171.2 523.1C171.7 530.4 172.5 539.2 173.2 543.9C173.9 548.6 175.2 552.2 176 554.2C176.8 556.2 176 556.6 178.8 557C182.5 557.4 196.7 558.1 200.9 557C205.1 555.9 204.8 551.6 206.5 549.4C208.2 547.2 210.5 542.5 212 542.5C213.5 542.5 215.2 547.3 216.8 549.4C218.4 551.5 221.4 555.7 222.5 556.8C223.6 557.9 222.5 557 224.4 557C228.5 557 245 557.3 249.5 557C254 556.7 252.9 555.9 254.2 554.9C255.5 553.9 257.2 551.4 258.2 550.6C259.2 549.8 260.1 550.3 261.1 549.4C262.1 548.5 264 545.8 265 544.6C266 543.4 266.9 542.9 268 541.1C269.1 539.3 271.2 535.5 272.2 532.8C273.2 530.1 274.1 525.8 274.9 523.1C275.7 520.4 276.9 516.9 277.7 514.8C278.5 512.7 279.7 509.6 280.5 509.2C281.3 508.8 282.4 510.5 283.2 512C284 513.5 285.2 517.2 286 518.9C286.8 520.6 287.9 522.2 288.8 523.1C289.7 524 291.2 525.4 292.2 525.2C293.2 525 294.6 523.5 295.7 521.7C296.8 519.9 298.2 516.5 299.2 513.4C300.2 510.3 301.5 505.1 302.6 500.9C303.7 496.7 305.6 490.1 306.8 485.7C308 481.3 309.8 474.4 310.9 471.8C312 469.2 313.5 468 314.4 468.4C315.3 468.8 316.4 471.2 317.2 474.6C318 478 319.2 487.3 319.9 491.2C320.6 495.1 321.1 496.7 321.7 500.7C322.3 504.7 323.3 513.9 324.1 518.1C324.9 522.3 326 526.7 327 528.6C328 530.5 329.4 530.3 330.5 530.9C331.6 531.5 333 531.8 334 532.7C335 533.6 336.4 535.1 337.4 536.7C338.4 538.4 339.8 541.6 340.9 543.7C342 545.8 343.8 549 345 550.7C346.2 552.4 347.9 553.9 349.1 554.8C350.3 555.7 349.1 556.7 353.1 557C360 557.3 388.7 557 395 557" stroke="#00e8e8" stroke-width="3.6"/>
<path d="M58 557.4C79.4 557.4 178.6 558.2 200.9 557.4C206.5 556.6 204.9 553.4 206.5 552.2C208.1 551 210 549.3 211.7 549.4C213.3 549.5 215.8 551.6 217.5 552.8C219.2 554 218.1 556.7 223 557.4C227.9 558.1 241.4 557.5 250 557.4C258.6 557.3 272.5 556.5 280 556.5C287.5 556.5 282.8 557.3 300 557.4C317.2 557.5 380.8 557.4 395 557.4" stroke="#ff00ff" stroke-width="2.8"/>
<path d="M58 557.6C86.2 557.6 217.5 557.7 246 557.6C248.1 557.5 246.9 557.9 248.1 557.2C249.3 556.5 252.1 553.9 253.8 553.2C255.5 552.5 258.2 552.3 259.7 552.6C261.2 552.9 262.3 554.3 263.8 554.9C265.3 555.5 267.7 556.7 269.4 556.3C271.1 555.9 273.4 553.9 274.9 552.2C276.4 550.5 278.2 546.6 279.1 545.2C280 543.9 280.5 543 281.2 543.2C281.9 543.4 283 545.1 283.9 546.6C284.8 548.1 286.3 551.9 287.4 553.5C288.5 555.1 288.8 556.6 291.5 557C294.2 557.4 301.9 556.6 305.4 556.3C308.9 556 312 555 315.1 554.9C318.2 554.8 323.2 555.5 326.2 555.6C329.2 555.7 332.4 555.2 335 555.3C337.6 555.4 341.1 556.2 343.3 556.5C345.6 556.8 343.3 557.4 350 557.6C357.8 557.8 388.2 557.6 395 557.6" stroke="#f8f800" stroke-width="3.0"/>
</g>
<text x="53.8" y="562.6" class="t" text-anchor="end">0</text>
<text x="53.8" y="503.1" class="t" text-anchor="end">5</text>
<text x="53.8" y="443.6" class="t" text-anchor="end">10</text>
<text x="53.8" y="384" class="t" text-anchor="end">15</text>
<text x="53.8" y="324.5" class="t" text-anchor="end">20</text>
<text x="59" y="575.6" class="t" text-anchor="middle">-6</text>
<text x="114.8" y="575.6" class="t" text-anchor="middle">-4</text>
<text x="170.6" y="575.6" class="t" text-anchor="middle">-2</text>
<text x="226.3" y="575.6" class="t" text-anchor="middle">0</text>
<text x="282.1" y="575.6" class="t" text-anchor="middle">2</text>
<text x="337.9" y="575.6" class="t" text-anchor="middle">4</text>
<text x="393.7" y="575.6" class="t" text-anchor="middle">6</text>
<text x="226.9" y="597" class="b" text-anchor="middle">Energy (eV)</text>
<text transform="translate(30.4,431.6) rotate(-90)" class="b" text-anchor="middle">PDOS</text>
<text x="66.6" y="346.2" class="h" letter-spacing="0.3">Si-ZnS</text>
<line x1="303.8" y1="336.8" x2="341.7" y2="336.8" stroke="#000000" stroke-width="2.4" stroke-linecap="round"/>
<text x="346.5" y="342.5" class="l">Zn(s)</text>
<line x1="303.8" y1="358" x2="341.7" y2="358" stroke="#ff0000" stroke-width="2.5" stroke-linecap="round"/>
<text x="346.5" y="363.7" class="l">Zn(p)</text>
<line x1="303.8" y1="379.2" x2="341.7" y2="379.2" stroke="#00e000" stroke-width="3.2" stroke-linecap="round"/>
<text x="346.5" y="384.9" class="l">Zn(d)</text>
<line x1="303.8" y1="400.4" x2="341.7" y2="400.4" stroke="#0000c8" stroke-width="2.8" stroke-linecap="round"/>
<text x="346.5" y="406.1" class="l">S(s)</text>
<line x1="303.8" y1="421.6" x2="341.7" y2="421.6" stroke="#00e8e8" stroke-width="3.6" stroke-linecap="round"/>
<text x="346.5" y="427.3" class="l">S(p)</text>
<line x1="303.8" y1="442.8" x2="341.7" y2="442.8" stroke="#ff00ff" stroke-width="2.8" stroke-linecap="round"/>
<text x="346.5" y="448.5" class="l">Si(s)</text>
<line x1="303.8" y1="464" x2="341.7" y2="464" stroke="#f8f800" stroke-width="3.0" stroke-linecap="round"/>
<text x="346.5" y="469.7" class="l">Si(p)</text>
<rect x="440" y="319.7" width="334.7" height="238.1" fill="none" stroke="#111" stroke-width="1.6"/>
<path d="M467.9 557.8v-2.6M467.9 319.7v2.6M495.8 557.8v-4.0M495.8 319.7v4.0M523.7 557.8v-2.6M523.7 319.7v2.6M551.6 557.8v-4.0M551.6 319.7v4.0M579.5 557.8v-2.6M579.5 319.7v2.6M607.4 557.8v-4.0M607.4 319.7v4.0M635.2 557.8v-2.6M635.2 319.7v2.6M663.1 557.8v-4.0M663.1 319.7v4.0M691 557.8v-2.6M691 319.7v2.6M718.9 557.8v-4.0M718.9 319.7v4.0M746.8 557.8v-2.6M746.8 319.7v2.6M440 528h2.6M774.7 528h-2.6M440 498.3h4.0M774.7 498.3h-4.0M440 468.5h2.6M774.7 468.5h-2.6M440 438.8h4.0M774.7 438.8h-4.0M440 409h2.6M774.7 409h-2.6M440 379.2h4.0M774.7 379.2h-4.0M440 349.5h2.6M774.7 349.5h-2.6" stroke="#111" stroke-width="1.4" fill="none"/>
<clipPath id="cp3"><rect x="440" y="319.7" width="334.7" height="239.9"/></clipPath>
<g clip-path="url(#cp3)" fill="none" stroke-linejoin="round" stroke-linecap="round">
<path d="M439.9 517.5C440.5 515 442.5 505.5 443.6 500.9C444.7 496.3 446.1 490 447.1 487.1C448.1 484.2 449.6 481.9 450.5 481.5C451.4 481.1 452.4 481.8 453.3 484.3C454.2 486.8 455.7 493.6 456.8 498.2C457.9 502.8 459.7 510 460.9 514.8C462.1 519.6 463.9 525.6 465.1 530C466.3 534.4 468.1 540.5 469.2 543.9C470.3 547.3 471.5 551.4 472.7 552.8C473.9 554.2 475.3 553.4 477.5 553.5C479.7 553.6 484.1 553.3 487.2 553.5C490.3 553.7 494.6 554.3 498.3 554.6C502.1 554.9 505.9 555.3 512.2 555.6C518.5 555.9 530.1 556.6 540 556.8C549.9 557 571.3 557.3 578 557C584.4 556.7 582.6 554.6 584.4 554.6C586.2 554.6 584.4 556.6 590 557C597.3 557.4 626.3 557.2 633 557.2C634.6 557.2 633.7 557.6 634.6 557C635.5 556.4 637.6 555.3 638.8 553.5C640 551.7 641.7 547.9 642.9 545.2C644.1 542.5 645.9 538.2 647.1 535.5C648.3 532.8 650 529.3 651.2 527.2C652.4 525.1 653.9 523.2 655.4 521.7C656.9 520.2 659.4 518.6 660.9 517.5C662.4 516.4 663.9 514.8 665.1 514.1C666.3 513.4 668 512.6 669.2 512.7C670.4 512.8 672.2 514.1 673.4 514.8C674.6 515.5 676.3 516.9 677.5 517.5C678.7 518.1 680.6 518.9 681.7 518.9C682.8 518.9 683.9 518.7 685 517.5C686.1 516.3 688 513.3 689.2 510.6C690.4 507.9 692.1 502.8 693.3 499.5C694.5 496.2 696.4 490.8 697.5 488.5C698.6 486.2 700 483.8 700.9 484C701.8 484.2 702.9 486.4 703.7 489.8C704.5 493.2 705.7 501.1 706.5 506.5C707.3 511.9 708.4 520.6 709.2 525.8C710 531 711.2 537.6 712 541.1C712.8 544.6 713.8 547.6 714.8 549.4C715.8 551.2 717.3 552.1 718.9 552.8C720.5 553.5 723.2 553.8 725.2 554.2C727.2 554.6 729.9 555.1 732.1 555.6C734.3 556.1 733.4 557 740 557.2C746.6 557.4 770.6 557.2 776 557.2" stroke="#000000" stroke-width="2.4"/>
<path d="M439.9 548C440.6 547.7 442.8 546 444.3 545.9C445.8 545.8 447.9 546.6 449.8 547.3C451.7 548 454.7 550 456.8 550.8C458.9 551.6 461.8 552.7 463.7 552.8C465.6 552.9 467.7 552.2 469.2 551.5C470.7 550.8 472.2 549.2 473.4 548C474.6 546.8 476 544.4 477.5 543.2C479 542 481.2 540.8 483.1 539.7C485 538.7 488.1 537.2 490 536.2C491.9 535.2 494 533.5 495.5 532.8C497 532.1 498.2 531.3 499.7 531.4C501.2 531.5 503.3 532.9 505.2 533.5C507.1 534.1 510.1 535.5 512.2 535.5C514.3 535.5 517.3 534.4 519.1 533.5C520.9 532.6 522.6 530.1 524.2 529.3C525.8 528.5 528.3 527.6 529.7 527.9C531.1 528.2 532.3 530 533.8 531.4C535.3 532.8 537.7 535.4 539.4 536.9C541.1 538.4 543.3 539.9 544.9 541.1C546.5 542.3 548.4 543.7 549.8 545.2C551.1 546.7 552.7 549.2 553.9 550.8C555.1 552.4 557 554.6 558.1 555.6C559.2 556.6 558.1 557 561 557.2C574 557.4 631.5 557.8 645 557.2C651.2 556.6 649.2 554.5 651.2 553.5C653.2 552.5 656.1 551.6 658.2 550.8C660.3 550 663.2 548.2 665.1 548C667 547.8 668.9 548.9 670.6 549.4C672.3 549.9 674.3 551.3 676.2 551.5C678.1 551.7 681.5 551.2 683.1 550.8C684.8 550.4 686.2 549.5 687.2 548.7C688.2 547.9 689.1 546.7 690 545.2C690.9 543.7 692.2 540 693.3 539C694.4 538 696.3 538.6 697.5 538.3C698.7 538 700.4 537.4 701.6 536.9C702.8 536.4 704.6 535.2 705.8 534.8C707 534.4 708.7 534.5 709.9 534.2C711.1 533.9 712.9 533.8 714.1 532.8C715.3 531.8 717 528.6 718.2 527.2C719.4 525.9 721.3 524 722.4 523.8C723.5 523.6 724.9 524.2 725.8 525.8C726.7 527.4 727.8 531.5 728.6 534.2C729.4 536.9 730.5 541.2 731.4 543.9C732.3 546.6 733.7 550.3 734.8 552.2C735.9 554.1 737.9 555.5 739 556.3C740.1 557 739 557.1 742 557.2C747.5 557.3 770.9 557.2 776 557.2" stroke="#ff0000" stroke-width="2.5"/>
<path d="M439.9 535.5C440.3 532 441.9 518.4 442.9 512C443.9 505.6 445.4 497.3 446.4 492.6C447.4 487.9 449 482.6 449.8 480.8C450.6 479 451.2 479.4 451.9 480.8C452.6 482.2 453.8 485.9 454.7 489.8C455.6 493.7 457.1 501.1 458.2 506.5C459.3 511.9 461.1 520.6 462.3 525.8C463.5 531 465.3 537.4 466.5 541.1C467.7 544.9 469.4 548.9 470.6 550.8C471.8 552.7 473.1 553.4 474.8 553.5C476.5 553.6 479.2 552.3 481.7 551.5C484.2 550.7 488.5 549.2 491.4 548C494.3 546.8 498.4 544.3 501.1 543.2C503.8 542.1 507.1 541.3 509.4 540.4C511.7 539.5 514.7 537.8 516.3 536.9C517.9 536 518.8 536.3 520 534.2C521.2 532.1 523 525.8 524.2 523.1C525.4 520.4 527.1 517.4 528.3 516.2C529.5 515 531.1 514.5 532.5 514.8C533.9 515.1 535.9 517.5 537.3 518.2C538.6 518.9 540.3 519.8 541.5 519.6C542.7 519.4 544.5 517.1 545.6 516.8C546.7 516.5 548.2 516.6 549.1 517.5C550 518.4 551 520.6 551.8 523.1C552.6 525.6 553.8 530.7 554.6 534.2C555.4 537.7 556.6 543.5 557.4 546.6C558.2 549.7 559.4 553.3 560.2 554.9C561 556.5 560.2 556.9 563 557.2C566 557.5 576.7 557.5 580 557.2C583.3 556.9 583.5 555.5 585 555.5C586.5 555.5 585 556.9 590 557.2C599 557.5 635.2 557.5 645 557.2C654.8 556.9 652.8 555.5 655.4 554.9C658 554.3 660.4 553.8 662.3 553.3C664.2 552.8 665.9 551.8 667.8 551.9C669.7 552 672.9 553.8 674.8 554.2C676.7 554.7 678.6 555.1 680.3 554.9C681.9 554.7 684.5 553.6 685.8 552.8C687.1 552 688.1 550.5 689.2 549.4C690.3 548.3 691.9 546.1 693.3 545.2C694.7 544.3 697.1 543.8 698.8 543.6C700.5 543.4 702.7 543.3 704.4 543.6C706.1 543.9 708.2 545.3 709.9 545.9C711.6 546.5 713.8 547.1 715.5 547.3C717.2 547.4 719.5 546.6 721 546.9C722.5 547.2 723.7 548.4 725.2 549.4C726.7 550.4 729.1 552.5 730.7 553.5C732.4 554.5 734.8 555.7 736.2 556.3C737.6 556.9 736.2 557.1 740 557.2C746 557.3 770.6 557.2 776 557.2" stroke="#00e000" stroke-width="3.2"/>
<path d="M439.9 549.4C440.6 548.4 442.8 544.5 444.3 542.5C445.8 540.5 448.2 537.4 449.8 536.2C451.4 535 453.2 534.6 454.7 534.8C456.2 535 458.1 536.4 459.5 537.6C460.9 538.8 462.5 540.7 463.7 542.5C464.9 544.3 466.6 547.5 467.8 549.4C469 551.3 470.2 553.9 472 554.9C473.8 555.9 472.8 556 480 556C487.2 556 511.9 554.7 520 554.6C528.1 554.5 529.6 554.9 533.8 555.2C538 555.5 533.8 556.2 548 556.5C564.2 556.8 626.4 557.5 641.5 557C648.5 556.5 646.4 554.4 648.5 553.5C650.6 552.6 653.3 551.7 655.4 550.8C657.5 549.9 660.4 548.1 662.3 547.3C664.2 546.5 666.1 545.3 667.8 545.2C669.5 545.1 671.7 546 673.4 546.6C675.1 547.2 677.2 548.8 678.9 549.4C680.6 550 682.8 550.8 684.5 550.8C686.2 550.8 688.8 549.9 690.5 549.4C692.2 548.9 694.6 547.8 696.1 547.7C697.6 547.6 698.7 548.1 700.2 548.7C701.7 549.3 704.1 550.7 705.8 551.5C707.5 552.3 709.4 553.7 711.3 554.2C713.2 554.7 715.9 554.5 718.2 554.6C720.5 554.7 724.1 554.6 726.5 554.9C728.9 555.2 732 556.2 734 556.5C736 556.8 734 557.1 740 557.2C746.3 557.3 770.6 557.2 776 557.2" stroke="#0000c8" stroke-width="2.8"/>
<path d="M439.9 509.2C440.3 505.9 441.9 492.9 442.9 487.1C443.9 481.3 445.5 473.9 446.4 470.5C447.3 467.1 448.5 465.2 449.2 464.2C449.9 463.1 450.5 462.8 451.2 463.5C451.9 464.2 452.9 466 454 469.1C455.1 472.2 457 479.7 458.2 484.3C459.4 488.9 461.1 494.9 462.3 499.5C463.5 504.1 465.4 510.6 466.5 514.8C467.6 519 469 524.7 469.9 527.2C470.8 529.7 471.6 531.4 472.3 531.4C473 531.4 473.8 529.3 474.8 527.2C475.8 525.1 477.7 520.2 478.9 517.5C480.1 514.8 481.9 511.5 483.1 509.2C484.3 506.9 486 504.6 487.2 502.3C488.4 500 490.2 496.7 491.4 494C492.6 491.3 494.3 487 495.5 484.3C496.7 481.6 498.2 478.2 499.7 476C501.2 473.8 503.7 471.4 505.2 469.8C506.7 468.2 508.3 467 509.4 465.6C510.5 464.2 511.9 463 512.8 460.8C513.7 458.6 514.9 454.2 515.6 451.1C516.3 448 517.1 444.2 517.7 440C518.3 435.8 518.8 429.5 519.6 423C520.4 416.5 521.9 404 522.9 396.4C523.9 388.8 525.4 378.5 526.3 372.5C527.2 366.5 528 359.9 528.9 356.6C529.8 353.3 531.3 351 532.2 350.6C533.1 350.2 534 352 534.9 353.9C535.8 355.8 537.3 361 538.2 363.2C539.1 365.4 540.2 368.3 541.1 368.5C542 368.7 543.2 366.4 544.2 364.5C545.2 362.6 546.7 356.7 547.5 355.9C548.3 355.1 549 356.7 549.5 359.2C550 361.7 550.4 366.9 550.8 372.5C551.2 378.1 551.8 388.8 552.2 396.4C552.6 404 553.1 416.5 553.5 423C553.9 429.5 554.2 433.3 554.6 440C555 446.7 555.6 459.4 556 467.7C556.4 476 556.9 487.1 557.4 495.4C557.9 503.7 558.9 516 559.5 523.1C560.1 530.2 560.8 537.9 561.5 542.5C562.2 547.1 563.5 551.3 564.3 553.5C565.1 555.7 565.6 556.5 567.1 557C568.6 557.5 572.1 558.6 574 557C575.9 555.4 577.8 549.2 579.5 546.6C581.2 544 583.4 539.7 585.1 539.7C586.8 539.7 588.7 544 590.6 546.6C592.5 549.2 590.6 555.4 597.5 557C605.1 558.6 634.1 558.1 641.5 557.2C647.1 556.3 645.4 553 647.1 550.8C648.8 548.6 651.1 545 652.6 542.5C654.1 540 655.6 537.3 656.8 534.2C658 531.1 659.8 524.6 660.9 521.7C662 518.8 663.5 516 664.4 514.8C665.3 513.6 666.3 513.2 667.2 513.4C668.1 513.6 669.5 515.1 670.6 516.2C671.7 517.3 673.6 519.8 674.8 521C676 522.2 677.8 524.1 678.9 524.5C680 524.9 681.4 524.6 682.4 523.8C683.4 523 684.9 521.1 685.8 518.9C686.7 516.7 687.8 511.1 688.6 509.2C689.4 507.3 690.3 509 691.2 506.5C692.1 504 693.7 497.2 694.7 492.6C695.8 488 697.3 479.5 698.2 476C699.1 472.5 700.1 469.5 700.9 469.1C701.7 468.7 702.9 470.3 703.7 473.2C704.5 476.1 705.7 483.7 706.5 488.5C707.3 493.3 708.4 500.3 709.2 505.1C710 509.9 711.2 516.6 712 520.3C712.8 524 713.9 528.2 714.8 530C715.7 531.8 717.2 531.5 718.2 532.1C719.2 532.7 720.7 533.1 721.7 534.2C722.8 535.3 724.2 537.8 725.2 539.7C726.2 541.6 727.5 544.6 728.6 546.6C729.7 548.6 731.4 551.3 732.8 552.8C734.1 554.3 736.2 555.6 737.6 556.3C739 557 737.6 557.1 741.8 557.2C747.6 557.3 770.9 557.2 776 557.2" stroke="#00e8e8" stroke-width="3.6"/>
<path d="M439 557.2C459.2 557.2 552.7 557.9 574 557.2C580.9 556.5 579.2 553.9 580.9 552.8C582.6 551.7 583.8 550.1 585.1 550.1C586.5 550.1 588.3 551.7 589.9 552.8C591.5 553.9 589.9 556.5 596 557.2C623.9 557.9 749 557.2 776 557.2" stroke="#ff00ff" stroke-width="2.8"/>
<path d="M439 555.6C442.1 555.7 452.4 555.9 460 556C467.6 556.1 481 556.6 490 556.5C499 556.4 512.5 555.2 520 555.2C527.5 555.2 522.9 556.2 540 556.5C557.1 556.8 619.6 557.3 634 557.4C636 557.5 634.9 558 636 557.2C637.1 556.4 639.8 553.3 641.5 552.2C643.2 551.1 645.4 550.2 647.1 550.1C648.8 550 650.9 551.4 652.6 551.5C654.3 551.6 656.7 551.5 658.2 550.8C659.7 550.1 661.1 547.7 662.3 546.6C663.5 545.5 665.3 543.2 666.5 543.2C667.7 543.2 669.4 545.1 670.6 546.6C671.8 548.1 673.6 552 674.8 553.5C676 555 677.4 555.8 678.9 556.3C680.4 556.8 682.8 557.1 685 557C687.2 556.9 690.6 556 693.3 555.6C696 555.2 700.1 554.1 703 554.2C705.9 554.3 709.9 555.5 712.7 556C715.6 556.5 712.7 557.2 722 557.4C731.5 557.6 767.9 557.4 776 557.4" stroke="#f8f800" stroke-width="3.0"/>
<path d="M439 557.8C489.6 557.8 725.5 557.8 776 557.8" stroke="#808000" stroke-width="2.8"/>
</g>
<text x="434.8" y="562.6" class="t" text-anchor="end">0</text>
<text x="434.8" y="503.1" class="t" text-anchor="end">5</text>
<text x="434.8" y="443.6" class="t" text-anchor="end">10</text>
<text x="434.8" y="384" class="t" text-anchor="end">15</text>
<text x="434.8" y="324.5" class="t" text-anchor="end">20</text>
<text x="440" y="575.6" class="t" text-anchor="middle">-6</text>
<text x="495.8" y="575.6" class="t" text-anchor="middle">-4</text>
<text x="551.6" y="575.6" class="t" text-anchor="middle">-2</text>
<text x="607.4" y="575.6" class="t" text-anchor="middle">0</text>
<text x="663.1" y="575.6" class="t" text-anchor="middle">2</text>
<text x="718.9" y="575.6" class="t" text-anchor="middle">4</text>
<text x="774.7" y="575.6" class="t" text-anchor="middle">6</text>
<text x="608" y="597" class="b" text-anchor="middle">Energy (eV)</text>
<text transform="translate(411.4,431.6) rotate(-90)" class="b" text-anchor="middle">PDOS</text>
<text x="447.4" y="346.2" class="h" letter-spacing="0.5">Ge-ZnS</text>
<line x1="685.3" y1="336.3" x2="722.7" y2="336.3" stroke="#000000" stroke-width="2.4" stroke-linecap="round"/>
<text x="727.5" y="342" class="l">Zn(s)</text>
<line x1="685.3" y1="357.6" x2="722.7" y2="357.6" stroke="#ff0000" stroke-width="2.5" stroke-linecap="round"/>
<text x="727.5" y="363.3" class="l">Zn(p)</text>
<line x1="685.3" y1="378.9" x2="722.7" y2="378.9" stroke="#00e000" stroke-width="3.2" stroke-linecap="round"/>
<text x="727.5" y="384.6" class="l">Zn(d)</text>
<line x1="685.3" y1="400.2" x2="722.7" y2="400.2" stroke="#0000c8" stroke-width="2.8" stroke-linecap="round"/>
<text x="727.5" y="405.9" class="l">S(s)</text>
<line x1="685.3" y1="421.5" x2="722.7" y2="421.5" stroke="#00e8e8" stroke-width="3.6" stroke-linecap="round"/>
<text x="727.5" y="427.2" class="l">S(p)</text>
<line x1="685.3" y1="442.8" x2="722.7" y2="442.8" stroke="#ff00ff" stroke-width="2.8" stroke-linecap="round"/>
<text x="727.5" y="448.5" class="l">Ge(s)</text>
<line x1="685.3" y1="464.1" x2="722.7" y2="464.1" stroke="#f8f800" stroke-width="3.0" stroke-linecap="round"/>
<text x="727.5" y="469.8" class="l">Ge(p)</text>
<line x1="685.3" y1="485.4" x2="722.7" y2="485.4" stroke="#808000" stroke-width="2.8" stroke-linecap="round"/>
<text x="727.5" y="491.1" class="l">Ge(d)</text>
<rect x="59" y="613.4" width="334.7" height="238.1" fill="none" stroke="#111" stroke-width="1.6"/>
<path d="M86.9 851.5v-2.6M86.9 613.4v2.6M114.8 851.5v-4.0M114.8 613.4v4.0M142.7 851.5v-2.6M142.7 613.4v2.6M170.6 851.5v-4.0M170.6 613.4v4.0M198.5 851.5v-2.6M198.5 613.4v2.6M226.3 851.5v-4.0M226.3 613.4v4.0M254.2 851.5v-2.6M254.2 613.4v2.6M282.1 851.5v-4.0M282.1 613.4v4.0M310 851.5v-2.6M310 613.4v2.6M337.9 851.5v-4.0M337.9 613.4v4.0M365.8 851.5v-2.6M365.8 613.4v2.6M59 821.7h2.6M393.7 821.7h-2.6M59 792h4.0M393.7 792h-4.0M59 762.2h2.6M393.7 762.2h-2.6M59 732.5h4.0M393.7 732.5h-4.0M59 702.7h2.6M393.7 702.7h-2.6M59 672.9h4.0M393.7 672.9h-4.0M59 643.2h2.6M393.7 643.2h-2.6" stroke="#111" stroke-width="1.4" fill="none"/>
<clipPath id="cp4"><rect x="59" y="613.4" width="334.7" height="239.9"/></clipPath>
<g clip-path="url(#cp4)" fill="none" stroke-linejoin="round" stroke-linecap="round">
<path d="M58.9 776.5C59.2 776.4 60.5 775.7 61.2 775.5C61.9 775.3 62.7 773.4 63.6 775.2C64.5 777 66.3 783.2 67.5 787.6C68.7 792 70.4 799.4 71.6 804.2C72.8 809 74.6 815.1 75.8 819.5C77 823.9 78.7 829.4 79.9 833.3C81.1 837.2 82.9 843.6 84.1 845.8C85.3 848 86.3 847.5 88.2 847.9C90.1 848.3 88.7 848.3 96.5 848.5C104.3 848.7 124.5 849.2 140 849.5C155.5 849.8 190 850.5 200 850.5C206.5 850.5 204.7 849.6 206.5 849.6C208.3 849.6 206.5 850.2 212 850.5C217.8 850.8 239.9 851.2 245 851.3C246.1 851.4 245.3 851.7 246.1 851.3C246.9 850.9 249.1 850.2 250.2 848.5C251.3 846.8 252.6 843.3 253.7 840.2C254.8 837.1 256.2 831 257.2 827.8C258.2 824.6 259.6 820.7 260.6 818.8C261.6 816.9 263 815.5 264.1 815C265.2 814.5 267.1 815.1 268.2 815.3C269.3 815.4 270.6 816.3 271.7 816C272.8 815.7 274.2 814 275.2 813.2C276.2 812.4 277.6 811.3 278.6 810.9C279.6 810.5 281 810.8 282.1 810.5C283.2 810.2 285 809.1 286.2 808.7C287.4 808.3 289.2 807.8 290.4 807.7C291.6 807.6 293.3 807.8 294.5 808.1C295.7 808.4 297.5 809.1 298.7 809.5C299.9 809.9 301.8 811.1 302.8 810.5C303.8 809.9 304.8 808 305.6 805.6C306.4 803.2 307.6 797.5 308.4 794.5C309.2 791.5 310.5 787 311.2 785.5C311.9 784 312.6 783.7 313.2 784.2C313.8 784.7 314.6 786.9 315.3 789C316 791.1 316.9 794.3 317.7 798.5C318.4 802.7 319.5 812.1 320.3 817.1C321.1 822.1 322.1 828.1 323 831.7C323.9 835.3 325.2 838.9 326.3 841C327.4 843.1 329 844.7 330.3 845.6C331.6 846.5 333.2 846.6 334.9 847C336.6 847.4 339.6 847.8 341.6 848.3C343.6 848.8 346.6 849.8 348.2 850.3C349.8 850.8 348.2 851.1 352 851.3C359 851.4 388.6 851.3 395 851.3" stroke="#000000" stroke-width="2.4"/>
<path d="M58.9 839.5C59.6 839.6 61.8 839.7 63.3 840.2C64.8 840.7 67.1 842.2 68.8 843C70.5 843.8 72.7 845.3 74.4 845.8C76.1 846.3 78.3 846.7 79.9 846.5C81.5 846.3 83.6 845.3 84.8 844.4C86 843.5 87.1 841.6 88.2 840.2C89.3 838.9 90.7 836.6 92.4 835.4C94.1 834.2 97.2 833 99.3 831.9C101.4 830.8 104.2 828.8 106.2 827.8C108.2 826.8 110.6 825.4 112.5 825.3C114.4 825.2 116.9 826.6 118.7 827.1C120.5 827.6 122.5 828.6 124.2 828.9C125.9 829.2 128.1 829.8 129.8 829.2C131.5 828.6 133.8 826.2 135.3 825C136.8 823.8 138.7 821.7 140 821.5C141.3 821.3 142.8 822.7 144.2 823.6C145.5 824.5 147.6 826.4 149 827.8C150.4 829.1 152.3 831.4 153.8 832.6C155.3 833.8 157.3 834.8 158.7 836.1C160 837.5 161.5 839.8 162.8 841.6C164.2 843.4 166.3 846.5 167.7 847.9C169 849.2 170.7 850.1 171.8 850.6C172.9 851.1 171.8 851.2 175 851.3C187.3 851.4 241.9 851.3 254 851.3C255.8 851.3 254.5 851.9 255.8 851.3C257.1 850.7 260.6 848.1 262.7 847.2C264.8 846.3 267.5 845.6 269.6 845.1C271.7 844.6 274.4 843.8 276.5 843.7C278.6 843.6 281.4 844.3 283.5 844.4C285.6 844.5 288.3 844.6 290.4 844.4C292.5 844.2 295.6 843.5 297.3 843C299 842.5 300.3 841.7 301.5 840.9C302.7 840.1 304.1 838.5 305.6 837.5C307.1 836.5 309.5 835 311.2 834C312.9 833 315.5 831.4 316.7 830.5C317.9 829.6 318.1 828.3 319 827.7C319.9 827.1 321.6 826.8 323 826.4C324.4 826 326.9 825.8 328.3 825C329.7 824.2 331.1 822.2 332.3 821.1C333.5 820 335.3 817.9 336.3 817.7C337.3 817.5 338.1 818.2 338.9 819.7C339.7 821.2 340.7 824.9 341.6 827.7C342.5 830.5 343.8 835.5 344.9 838.3C346 841.1 347.6 844.5 348.9 846.3C350.2 848.1 352.4 849.5 353.5 850.3C354.6 851 353.5 851.1 356 851.3C362.2 851.4 389.1 851.3 395 851.3" stroke="#ff0000" stroke-width="2.5"/>
<path d="M58.9 794.5C59.2 792 60.4 781 61.2 777.9C62 774.8 63.3 773.8 64 773.8C64.7 773.8 65.4 775 66.1 777.9C66.8 780.8 67.9 788 68.8 793.2C69.7 798.4 71.1 807.1 72.3 812.5C73.5 817.9 75.3 824.8 76.5 829.2C77.7 833.6 79.2 838.8 80.6 841.6C81.9 844.4 83.9 847.1 85.5 847.9C87.1 848.7 88.9 847.4 91 846.9C93.1 846.4 96.6 845.4 99.3 844.4C102 843.4 106.1 841.4 109 840.2C111.9 839 115.8 837.2 118.7 836.1C121.6 835 126.3 834.1 128.4 832.6C130.5 831.1 131.3 829 132.5 826.4C133.7 823.8 135.5 817.7 136.7 815.3C137.9 812.9 139.6 811.3 140.8 810.5C142 809.7 143.5 809.5 144.8 809.8C146.1 810.1 148.3 811.8 149.7 812.5C151 813.2 152.7 814.6 153.8 814.6C154.9 814.6 156.2 812.9 157.3 812.5C158.4 812.1 159.9 811.2 160.8 811.8C161.7 812.4 162.7 814.3 163.5 816.7C164.3 819.1 165.5 824.5 166.3 827.8C167.1 831.1 168.2 835.7 169.1 838.8C170 841.9 171.5 846.6 172.5 848.5C173.5 850.4 172.5 850.9 176 851.3C188.4 851.7 242 851.6 255 851.3C262.7 851 260.3 849.7 262.7 849.2C265.1 848.7 268.5 848.2 271 847.9C273.5 847.6 276.8 847.4 279.3 847.2C281.8 847 285.1 846.7 287.6 846.5C290.1 846.3 293.8 846.4 295.9 845.8C298 845.2 299.8 843.2 301.5 842.3C303.2 841.4 305.4 840.2 307 839.5C308.6 838.8 311.3 837.9 312.5 837.7C313.7 837.5 314 838.2 315 838.3C316 838.4 317.8 838.1 319 838.3C320.2 838.5 321.6 839.3 323 839.7C324.4 840.1 326.5 840.7 328.3 841C330.1 841.3 333.3 841.3 334.9 841.7C336.5 842.1 337.7 842.9 338.9 843.7C340.1 844.5 341.5 846 342.9 847C344.3 848 346.8 849.7 348.2 850.3C349.6 850.9 348.2 851.1 352 851.3C359 851.4 388.6 851.3 395 851.3" stroke="#00e000" stroke-width="3.2"/>
<path d="M58.9 834.7C59.6 834.1 62 831.3 63.3 830.5C64.6 829.7 66.3 829.3 67.5 829.4C68.7 829.5 70.2 830 71.6 831.2C72.9 832.4 75.2 835.5 76.5 837.5C77.8 839.5 79.5 842.6 80.6 844.4C81.7 846.2 82.7 848.3 84.1 849.2C85.5 850.1 84.1 850.3 90 850.5C98.4 850.7 126.5 850.4 140 850.5C153.5 850.6 163.2 850.9 180 851C196.8 851.1 241.1 851.3 252 851.3C253 851.3 252 851.8 253 851C254.2 850.2 257.8 847 259.9 845.8C262 844.6 264.7 843.3 266.8 842.7C268.9 842.1 271.7 841.9 273.8 841.6C275.9 841.3 278.8 840.6 280.7 840.5C282.6 840.4 284.5 840.6 286.2 840.9C287.9 841.2 290.1 841.8 291.8 842.3C293.5 842.8 295.7 844 297.3 844.4C298.9 844.8 301.1 845.3 302.8 845.1C304.5 844.9 306.9 843.4 308.4 843C309.9 842.6 311.5 842.3 312.5 842.3C313.5 842.3 313.8 842.5 315 843C316.2 843.5 318.7 844.9 320.3 845.6C321.9 846.3 323.8 847.2 325.6 847.6C327.4 848 330.1 848.2 332.3 848.3C334.5 848.4 337.9 848 340 848.3C342.1 848.6 344.2 849.8 346 850.3C347.8 850.8 346 851.1 352 851.3C359.4 851.4 388.6 851.3 395 851.3" stroke="#0000c8" stroke-width="2.8"/>
<path d="M58.9 772.4C59.2 770.6 60.5 762.9 61.2 760.6C61.9 758.3 62.9 757.1 63.6 757.2C64.3 757.3 65 758.6 65.8 761.3C66.6 764 67.7 770.8 68.8 775.2C69.9 779.6 71.7 786 73 790.4C74.3 794.8 76.1 800 77.2 804.2C78.3 808.4 79.7 814.6 80.6 818.1C81.5 821.6 82.7 826.3 83.4 827.8C84.1 829.3 84.8 828.8 85.5 827.8C86.2 826.8 87.2 823.5 88.2 820.8C89.2 818.1 91.2 812.7 92.4 809.8C93.6 806.9 95.2 804 96.5 801.5C97.8 799 100.2 795.5 101.4 793.2C102.6 790.9 103.7 788.7 104.8 786.2C105.9 783.7 107.7 779.2 109 776.5C110.3 773.8 111.7 770.7 113.2 768.2C114.7 765.7 117 762.3 118.7 759.9C120.4 757.5 122.9 754.3 124.2 752.3C125.5 750.3 126.9 748.7 127.7 746.8C128.5 744.9 128.8 744.6 129.6 739.5C130.4 734.4 132 720.9 133 712.9C134 704.9 135.4 694 136.3 686.4C137.2 678.8 138.1 668.1 138.9 662.5C139.7 656.9 140.8 651.7 141.6 649.2C142.4 646.7 143.3 645.8 144.2 645.9C145.1 646 146.6 648 147.6 649.9C148.6 651.8 150 656.7 150.9 658.5C151.8 660.3 153 662.4 153.9 662.2C154.8 662 156.1 659 156.9 657.2C157.7 655.4 158.7 650.7 159.5 650.5C160.3 650.3 161.6 653.4 162.2 655.8C162.8 658.2 163.1 661.9 163.5 666.5C163.9 671.1 164.4 679.4 164.8 686.4C165.2 693.4 165.8 704.9 166.2 712.9C166.6 720.9 167.3 732 167.7 739.5C168.1 747 168.7 755.1 169.1 762.7C169.5 770.3 170.1 782.1 170.5 790.4C170.9 798.7 171.5 810.8 172.1 818.1C172.7 825.4 173.8 834.2 174.6 838.8C175.4 843.4 176.6 846.6 177.4 848.5C178.2 850.4 177.5 850.9 180.2 851.3C182.9 851.7 192.3 853 195.4 851.3C198.5 849.6 199.1 842.9 200.9 840.2C202.7 837.5 205.4 833.3 207.2 833.3C209 833.3 210.9 837.6 212.7 840.2C214.5 842.8 217.7 848.9 218.9 850.6C220.1 852.3 218.9 851.2 221 851.3C226 851.4 247.2 851.3 252 851.3C253 851.3 252.2 852.2 253 851C253.8 849.8 256.1 845.9 257.2 843C258.3 840.1 259.6 835 260.6 831.9C261.6 828.8 263 824.4 264.1 822.2C265.2 820 267 818.1 268.2 817.4C269.4 816.7 271.2 817.5 272.4 817.8C273.6 818.1 275.3 819.2 276.5 819.5C277.7 819.8 279.5 820 280.7 819.5C281.9 819 283.6 816.9 284.8 816C286 815.1 287.7 813.9 289 813.2C290.3 812.5 292 811.7 293.2 811.2C294.4 810.7 296.1 810.4 297.3 809.8C298.5 809.2 300.5 808.7 301.5 807C302.5 805.3 303.4 801.8 304.2 798.7C305 795.6 306.1 789.9 307 786.2C307.9 782.5 309.6 776.3 310.5 773.8C311.4 771.3 312.4 769.4 313.2 769.6C314 769.8 315.2 772.3 316 775.2C316.8 778.1 318 784.6 318.8 789C319.6 793.4 320.9 801 321.5 804.2C322.1 807.4 322.3 807.7 323 810.4C323.7 813.1 325.2 820 326.3 822.4C327.4 824.8 329 825.6 330.3 826.4C331.6 827.2 333.7 826.9 334.9 827.7C336.1 828.5 337.3 830.1 338.3 831.7C339.3 833.3 340.5 836.3 341.6 838.3C342.7 840.3 344.4 843.4 345.6 845C346.8 846.6 348.2 848.1 349.6 849C351 849.9 349.6 851 354.9 851.3C361.7 851.6 389 851.3 395 851.3" stroke="#00e8e8" stroke-width="3.6"/>
<path d="M58 851C78.6 851 173.8 851.8 195.4 851C202.3 850.2 200.5 847.2 202.3 845.8C204.1 844.4 205.7 841.9 207.2 841.9C208.7 841.9 210.4 844.4 212 845.8C213.6 847.2 212 850.3 218 851C226.7 851.7 257.7 850.5 270 850.5C282.3 850.5 281.2 850.9 300 851C318.8 851.1 380.8 851 395 851" stroke="#ff00ff" stroke-width="2.8"/>
<path d="M58 849.2C62 849.2 79.5 849.4 85 849.2C90.5 849 90.2 848 95 847.8C99.8 847.6 110.2 847.6 117 847.8C123.8 848 120.7 848.6 140 849.2C159.3 849.8 229.7 851.6 246 852C248.8 852.4 247.5 852.7 248.8 852C250.1 851.3 252.7 848.8 254.4 847.2C256.1 845.6 258.3 843.3 259.9 841.6C261.5 839.9 263.6 837.2 264.8 836.1C266 835 267.2 833.8 268.2 834C269.2 834.2 270.6 836 271.7 837.5C272.8 839 274.1 842.5 275.2 843.7C276.3 844.9 278.1 845.7 279.3 845.8C280.5 845.9 282.3 844.5 283.5 844.4C284.7 844.3 286.4 844.5 287.6 845.1C288.8 845.7 290.6 847.7 291.8 848.5C293 849.3 294.2 850 295.9 850.3C297.6 850.6 300.5 850.7 303 850.3C305.5 849.9 309.8 848.2 312.5 847.9C315.2 847.6 319.2 848.2 320.8 848.5C322.4 848.8 320.9 849.5 323 849.6C325.1 849.7 331.7 848.9 334.9 849C338.1 849.1 341.6 849.8 344.2 850.3C346.8 850.8 344.4 851.7 352 852C359.6 852.3 388.6 852 395 852" stroke="#f8f800" stroke-width="3.0"/>
<path d="M58 851.8C108.6 851.8 344.4 851.8 395 851.8" stroke="#808000" stroke-width="2.8"/>
</g>
<text x="53.8" y="856.3" class="t" text-anchor="end">0</text>
<text x="53.8" y="796.8" class="t" text-anchor="end">5</text>
<text x="53.8" y="737.2" class="t" text-anchor="end">10</text>
<text x="53.8" y="677.7" class="t" text-anchor="end">15</text>
<text x="53.8" y="618.2" class="t" text-anchor="end">20</text>
<text x="59" y="869.3" class="t" text-anchor="middle">-6</text>
<text x="114.8" y="869.3" class="t" text-anchor="middle">-4</text>
<text x="170.6" y="869.3" class="t" text-anchor="middle">-2</text>
<text x="226.3" y="869.3" class="t" text-anchor="middle">0</text>
<text x="282.1" y="869.3" class="t" text-anchor="middle">2</text>
<text x="337.9" y="869.3" class="t" text-anchor="middle">4</text>
<text x="393.7" y="869.3" class="t" text-anchor="middle">6</text>
<text x="226.9" y="890.7" class="b" text-anchor="middle">Energy (eV)</text>
<text transform="translate(30.4,725.2) rotate(-90)" class="b" text-anchor="middle">PDOS</text>
<text x="66.5" y="639.4" class="h" letter-spacing="0.5">Sn-ZnS</text>
<line x1="304.3" y1="630.8" x2="341.7" y2="630.8" stroke="#000000" stroke-width="2.4" stroke-linecap="round"/>
<text x="346.5" y="636.5" class="l">Zn(s)</text>
<line x1="304.3" y1="652.1" x2="341.7" y2="652.1" stroke="#ff0000" stroke-width="2.5" stroke-linecap="round"/>
<text x="346.5" y="657.8" class="l">Zn(p)</text>
<line x1="304.3" y1="673.4" x2="341.7" y2="673.4" stroke="#00e000" stroke-width="3.2" stroke-linecap="round"/>
<text x="346.5" y="679.1" class="l">Zn(d)</text>
<line x1="304.3" y1="694.7" x2="341.7" y2="694.7" stroke="#0000c8" stroke-width="2.8" stroke-linecap="round"/>
<text x="346.5" y="700.4" class="l">S(s)</text>
<line x1="304.3" y1="716" x2="341.7" y2="716" stroke="#00e8e8" stroke-width="3.6" stroke-linecap="round"/>
<text x="346.5" y="721.7" class="l">S(p)</text>
<line x1="304.3" y1="737.3" x2="341.7" y2="737.3" stroke="#ff00ff" stroke-width="2.8" stroke-linecap="round"/>
<text x="346.5" y="743" class="l">Sn(s)</text>
<line x1="304.3" y1="758.6" x2="341.7" y2="758.6" stroke="#f8f800" stroke-width="3.0" stroke-linecap="round"/>
<text x="346.5" y="764.3" class="l">Sn(p)</text>
<line x1="304.3" y1="779.9" x2="341.7" y2="779.9" stroke="#808000" stroke-width="2.8" stroke-linecap="round"/>
<text x="346.5" y="785.6" class="l">Sn(d)</text>
<rect x="440" y="613.4" width="334.7" height="238.1" fill="none" stroke="#111" stroke-width="1.6"/>
<path d="M467.9 851.5v-2.6M467.9 613.4v2.6M495.8 851.5v-4.0M495.8 613.4v4.0M523.7 851.5v-2.6M523.7 613.4v2.6M551.6 851.5v-4.0M551.6 613.4v4.0M579.5 851.5v-2.6M579.5 613.4v2.6M607.4 851.5v-4.0M607.4 613.4v4.0M635.2 851.5v-2.6M635.2 613.4v2.6M663.1 851.5v-4.0M663.1 613.4v4.0M691 851.5v-2.6M691 613.4v2.6M718.9 851.5v-4.0M718.9 613.4v4.0M746.8 851.5v-2.6M746.8 613.4v2.6M440 821.7h2.6M774.7 821.7h-2.6M440 792h4.0M774.7 792h-4.0M440 762.2h2.6M774.7 762.2h-2.6M440 732.5h4.0M774.7 732.5h-4.0M440 702.7h2.6M774.7 702.7h-2.6M440 672.9h4.0M774.7 672.9h-4.0M440 643.2h2.6M774.7 643.2h-2.6" stroke="#111" stroke-width="1.4" fill="none"/>
<clipPath id="cp5"><rect x="440" y="613.4" width="334.7" height="239.9"/></clipPath>
<g clip-path="url(#cp5)" fill="none" stroke-linejoin="round" stroke-linecap="round">
<path d="M439.9 825C440.5 821.5 442.5 807.3 443.6 801.5C444.7 795.7 446.1 789.7 447.1 786.2C448.1 782.7 449.6 779.5 450.5 777.9C451.4 776.2 452.5 775 453.3 775.2C454.1 775.4 455.2 776.6 456.1 779.3C457 782 458.4 788.6 459.5 793.2C460.6 797.8 462.5 804.8 463.7 809.8C464.9 814.8 466.6 821.8 467.8 826.4C469 831 470.8 837.1 472 840.2C473.2 843.3 474 846 475.5 847.2C477 848.4 475.5 847.8 482 848C488.7 848.2 508.3 848.5 520 848.8C531.7 849.1 551.3 850 560 850.3C568.7 850.6 574.4 850.9 578 850.8C581.6 850.7 581.9 849.5 583.7 849.5C585.5 849.5 583.7 850.7 590 851C597.5 851.3 627.2 851.3 634 851.3C635.2 851.3 634.4 851.8 635.2 851.3C636 850.8 638.3 849.6 639.4 847.9C640.5 846.2 641.8 843 642.8 840.2C643.8 837.4 645.2 832.4 646.3 829.2C647.3 826 648.8 821 649.8 818.8C650.8 816.5 652.2 814.8 653.2 814.2C654.2 813.6 655.7 814.8 656.7 815C657.8 815.2 659.2 815.6 660.2 815.3C661.2 815 662.6 813.8 663.6 813.2C664.6 812.6 666.1 811.2 667.1 811.2C668.1 811.2 669.6 812.7 670.5 813C671.4 813.3 672.4 813.6 673.3 813.2C674.2 812.8 675.8 811.3 676.8 810.5C677.8 809.7 679 808.1 680.2 807.7C681.4 807.3 683.8 807.6 685.1 807.7C686.5 807.8 688.2 808.4 689.2 808.4C690.2 808.4 691.1 808.7 692 807.7C692.9 806.7 694.5 803.9 695.5 801.5C696.5 799.1 698 794 698.9 791.8C699.8 789.6 700.9 787.1 701.7 786.9C702.5 786.7 703.7 787.5 704.5 790.4C705.3 793.3 706.5 802 707.3 806.4C708.1 810.8 709.2 815.9 710 819.7C710.8 823.5 711.7 828.7 712.6 831.7C713.5 834.7 714.8 837.8 715.9 839.7C717 841.6 718.5 843.3 719.9 844.3C721.3 845.3 723.6 845.8 725.2 846.3C726.8 846.8 729 847.1 730.6 847.6C732.2 848.1 734.5 849.1 735.9 849.6C737.3 850.1 735.9 851 740 851.2C746 851.4 770.6 851.2 776 851.2" stroke="#000000" stroke-width="2.4"/>
<path d="M439.9 843C440.6 842.6 442.8 840.5 444.3 840.2C445.8 839.9 447.9 840.3 449.8 840.9C451.7 841.5 454.7 843.6 456.8 844.4C458.9 845.2 461.6 846.1 463.7 846.5C465.8 846.9 468.9 847.3 470.6 847.2C472.3 847.1 473.6 846.8 474.8 845.8C476 844.8 477.4 841.8 478.9 840.2C480.4 838.6 482.6 836.8 484.5 835.4C486.4 834 489.5 832.3 491.4 831.2C493.3 830.1 495.2 828.6 496.9 827.8C498.6 827 500.8 825.8 502.5 825.7C504.2 825.6 506.4 826.7 508 827.1C509.6 827.5 511.8 828.1 513.5 828.5C515.2 828.9 518.1 829.8 519.1 829.9C520 830 519.1 830.1 520 829.2C521 828.3 523.9 824.8 525.5 823.6C527.1 822.4 528.9 821.3 530.4 821.5C531.9 821.7 533.6 823.8 535.2 825C536.8 826.2 539.1 828 540.8 829.2C542.5 830.4 544.7 832.1 546.3 833.3C547.9 834.5 549.9 835.9 551.2 837.5C552.6 839.1 554.1 842.1 555.3 843.7C556.5 845.4 558.1 847.5 559.5 848.5C560.9 849.5 563 850.2 564.3 850.6C565.6 851 564.3 851.1 568 851.2C580.6 851.3 635.4 852 648 851.3C651.8 850.6 650.2 847.5 651.8 846.5C653.4 845.5 656.7 844.8 658.8 844.4C660.9 844 663.6 843.8 665.7 843.7C667.8 843.6 670.5 843.8 672.6 843.7C674.7 843.6 677.6 843.2 679.5 843C681.4 842.8 683.4 842.9 685.1 842.3C686.8 841.7 688.9 839.8 690.6 838.8C692.3 837.8 694.8 836.1 696.2 835.4C697.6 834.7 698.8 835.1 700 834.4C701.2 833.7 702.8 832 704 831C705.2 830 706.8 828.5 708 827.7C709.2 826.9 710.6 826.1 712 825.7C713.4 825.3 715.7 825.9 717.3 825C718.9 824.1 721.2 820.9 722.6 819.7C724 818.5 725.6 817.1 726.6 817.3C727.6 817.5 728.4 819.1 729.2 821.1C730 823.1 731 827.4 731.9 830.4C732.8 833.4 734.1 838.3 735.2 841C736.3 843.7 737.9 846.8 739.2 848.3C740.5 849.8 739.2 850.6 743.9 851C749.4 851.4 771.2 851.2 776 851.2" stroke="#ff0000" stroke-width="2.5"/>
<path d="M439.9 834.7C440.5 830.5 442.5 814.1 443.6 807C444.7 799.9 446.1 792 447.1 787.6C448.1 783.2 449.6 779.4 450.5 777.9C451.4 776.4 452.5 776.9 453.3 777.9C454.1 778.9 455.2 781.5 456.1 784.8C457 788.1 458.4 795.1 459.5 800.1C460.6 805.1 462.5 813.1 463.7 818.1C464.9 823.1 466.4 829.4 467.8 833.3C469.2 837.2 471.3 842.2 472.7 844.4C474.1 846.6 475.2 847.6 476.8 847.9C478.4 848.2 480.9 847.2 483.1 846.5C485.3 845.8 488.9 844 491.4 843C493.9 842 497 840.6 499.7 839.5C502.4 838.4 506.7 836.4 509.4 835.4C512.1 834.4 516.1 833.1 517.7 832.6C519.3 832.1 519 833.2 520 831.9C521 830.5 523 826.5 524.2 823.6C525.4 820.7 526.9 814.5 528.3 812.5C529.6 810.5 531.7 810.5 533.2 810.5C534.7 810.5 536.4 811.8 538 812.5C539.6 813.2 542.4 815.1 544.2 815C546 814.9 548.4 811.8 549.8 811.8C551.1 811.8 552.3 813.3 553.2 815.3C554.1 817.3 555.2 821.9 556 825C556.8 828.1 557.9 833 558.8 836.1C559.7 839.2 561.2 843.7 562.2 845.8C563.2 847.9 564.5 849.1 565.7 849.9C566.9 850.7 568.2 851 570 851.2C571.8 851.4 575.9 851.4 578 851.2C580.1 851 581.9 849.8 583.7 849.8C585.5 849.8 583.7 851 590 851.2C599.6 851.4 638.3 851.7 648 851.3C654.6 850.9 652.2 848.9 654.6 848.3C657 847.7 661.2 847.5 664.3 847.2C667.4 846.9 672.5 846.7 675.4 846.5C678.3 846.3 681.6 846.3 683.7 845.8C685.8 845.3 687.5 843.8 689.2 843C690.9 842.2 693.1 841.1 694.8 840.5C696.5 839.9 698.7 839.1 700.3 838.8C701.9 838.5 703.8 838.3 705.3 838.3C706.8 838.3 709 838.6 710.6 839C712.2 839.4 714.3 840.5 715.9 841C717.5 841.5 719.7 841.8 721.3 842.3C722.9 842.8 725 843.5 726.6 844.3C728.2 845.1 730.3 846.7 731.9 847.6C733.5 848.5 735.8 849.8 737.2 850.3C738.6 850.8 737.2 851.1 741 851.2C746.8 851.3 770.8 851.2 776 851.2" stroke="#00e000" stroke-width="3.2"/>
<path d="M439.9 845.8C440.6 844.7 442.8 840.3 444.3 838.2C445.8 836.1 447.9 833.2 449.8 831.9C451.7 830.6 454.9 829.4 456.8 829.4C458.7 829.4 460.8 830.6 462.3 831.9C463.8 833.2 465.3 836.1 466.5 838.2C467.7 840.3 469.5 844 470.6 845.8C471.7 847.6 471.2 849.3 474.1 849.9C477 850.5 483.1 850 490 850C496.9 850 514.3 850.1 520 850C525.7 849.9 524.5 849.6 528.3 849.6C532 849.6 534.2 850.1 545 850.3C555.8 850.5 585 851.1 600 851.2C615 851.4 637.3 852.1 644.9 851.3C650.5 850.5 648.8 847 650.5 845.8C652.2 844.6 654.4 843.6 656 843C657.6 842.4 659.8 842.2 661.5 841.9C663.2 841.6 665.4 841.3 667.1 841.3C668.8 841.3 670.9 841.9 672.6 841.9C674.3 841.9 676.5 841.4 678.2 841.6C679.9 841.8 682.1 842.5 683.7 843C685.4 843.5 687.3 844.6 689.2 844.7C691.1 844.8 694.6 844 696.2 843.7C697.8 843.4 698.6 843 700 843C701.4 843 703.7 843.3 705.3 843.7C706.9 844.1 709 845 710.6 845.6C712.2 846.2 714.1 847.1 715.9 847.4C717.7 847.7 720.6 847.5 722.6 847.6C724.6 847.7 727.3 847.9 729.2 848.3C731.1 848.7 733.4 849.9 735 850.3C736.6 850.7 735 851.1 740 851.2C746.1 851.3 770.6 851.2 776 851.2" stroke="#0000c8" stroke-width="2.8"/>
<path d="M439.9 815.3C440.3 811.6 441.8 797 442.9 790.4C444 783.8 446 775.4 447.1 771C448.2 766.6 449.6 763.1 450.5 761.3C451.4 759.5 452.5 758.8 453.3 759.2C454.1 759.6 455.2 761.1 456.1 764.1C457 767.1 458.4 774.5 459.5 779.3C460.6 784.1 462.5 790.9 463.7 795.9C464.9 800.9 466.7 808.1 467.8 812.5C468.9 816.9 470.4 822.5 471.3 825C472.2 827.5 473.3 829.2 474.1 829.2C474.9 829.2 475.8 827.3 476.8 825C477.8 822.7 479.7 817 481 813.9C482.3 810.8 483.8 806.9 485.2 804.2C486.6 801.5 488.6 798.6 490 795.9C491.4 793.2 493 789.1 494.2 786.2C495.4 783.3 497.1 779.1 498.3 776.5C499.5 773.9 501 771.1 502.5 768.9C504 766.7 506.5 764 508 762C509.5 760 511.4 757.6 512.8 755.8C514.1 754 516.1 751.9 517 750.2C517.9 748.5 518.3 748.3 519 744.5C519.7 740.7 520.8 731.6 521.6 724.6C522.4 717.6 523.5 706 524.3 698C525.1 690 526.2 678.1 526.9 671.5C527.6 664.9 528.3 658 528.9 654.2C529.5 650.4 530.2 647.7 530.9 646.3C531.6 644.9 532.7 644.5 533.6 644.9C534.5 645.3 535.9 647.3 536.9 648.9C537.9 650.5 539.2 653.7 540.2 655.5C541.2 657.3 542.6 660.2 543.5 660.6C544.4 661 545.4 659.5 546.2 658.2C547 656.9 548 652.6 548.8 652.2C549.6 651.8 550.9 653.6 551.5 655.5C552.1 657.4 552.1 659.4 552.5 664.8C552.9 670.2 553.6 683.4 554.1 691.4C554.6 699.4 555 710 555.5 718C556 726 557.1 737.8 557.5 744.5C557.9 751.2 557.7 755.8 558.1 762.7C558.5 769.6 559.6 782.1 560.2 790.4C560.8 798.7 561.5 810.8 562.2 818.1C562.9 825.4 564.2 834.1 565 838.8C565.8 843.5 567 847.4 567.8 849.2C568.6 851 569.5 851.1 570.5 850.6C571.5 850.1 573.5 847.8 574.7 845.8C575.9 843.8 577.4 839.6 578.8 837.5C580.1 835.4 582.2 831.9 583.7 831.9C585.2 831.9 587 835.2 588.5 837.5C590 839.8 592.2 845.2 593.4 847.2C594.6 849.2 595.8 850 596.8 850.6C597.8 851.2 596.8 851.2 600 851.3C606.6 851.4 634.1 852.1 640.8 851.3C644.9 850.5 643.7 848.3 644.9 845.8C646.1 843.3 647.9 837.8 649.1 834.7C650.3 831.6 652.1 827.5 653.2 825C654.3 822.5 655.7 819.4 656.7 818.1C657.8 816.8 659.1 816.5 660.2 816.4C661.3 816.3 663.2 816.9 664.3 817.4C665.4 817.9 666.8 819.2 667.8 819.5C668.8 819.8 670.2 820 671.2 819.5C672.2 819 673.7 817.2 674.7 816C675.8 814.8 677.1 812.7 678.2 811.8C679.3 810.9 681.1 810.4 682.3 809.8C683.5 809.2 685.3 808.8 686.5 807.7C687.7 806.7 689.6 804.6 690.6 802.8C691.6 801 692.6 798.6 693.4 795.9C694.2 793.2 695.3 787.9 696.2 784.8C697.1 781.7 698.6 776.8 699.6 775.2C700.6 773.6 701.8 773.8 702.7 773.9C703.6 774 704.5 774 705.3 775.9C706.1 777.8 707.1 782.5 708 786.5C708.9 790.5 710.3 797.9 711.3 802.5C712.3 807.1 713.6 813.7 714.6 817.1C715.6 820.5 716.8 823.5 717.9 825C719 826.5 720.7 826.2 721.9 827C723.1 827.8 724.8 828.9 725.9 830.4C727 831.9 728.2 835 729.2 837C730.2 839 731.5 842 732.6 843.7C733.7 845.4 735.2 847.2 736.5 848.3C737.8 849.4 736.5 850.8 741.2 851.2C747.1 851.6 770.8 851.2 776 851.2" stroke="#00e8e8" stroke-width="3.6"/>
<path d="M439 851.2C459.2 851.2 552.9 851.8 574 851.2C579.5 850.6 578 848.1 579.5 847.2C581 846.3 582.4 845.5 583.7 845.5C585.1 845.5 587 846.3 588.5 847.2C590 848.1 588.5 850.6 594 851.2C622.1 851.8 748.7 851.2 776 851.2" stroke="#ff00ff" stroke-width="2.8"/>
<path d="M439.9 849.9C441.4 849.7 446 848.8 449.8 848.8C453.6 848.8 459.8 849.9 465 849.8C470.2 849.7 479.2 848.2 484.5 847.9C489.8 847.6 495.8 847.6 500 847.5C504.2 847.4 509.2 846.6 512.2 846.9C515.2 847.2 517.6 849.2 520 849.2C522.4 849.2 526.2 847.2 528.3 847.2C530.4 847.2 529.2 849 534 849.5C538.8 850 544.1 850.1 560 850.5C575.9 850.9 627.7 851.8 640 852C642.2 852.2 641 852.9 642.2 852C643.4 851.1 646.1 847.9 647.7 845.8C649.4 843.7 651.6 839.9 653.2 838.2C654.8 836.5 656.8 834.6 658.1 834.4C659.5 834.2 661.1 835.5 662.2 836.8C663.3 838.1 664.7 841.6 665.7 843C666.8 844.4 668 845.6 669.2 845.8C670.4 846 672.6 844.8 674 844.4C675.4 844 677 842.8 678.2 843C679.4 843.2 681.1 844.9 682.3 845.8C683.5 846.7 684.4 848.6 686.5 849.2C688.6 849.8 694.2 849.9 696.2 849.9C698.2 849.9 698.6 849.4 700 849C701.4 848.6 703.7 847.1 705.3 847C706.9 846.9 708.4 847.8 710.6 848.3C712.8 848.8 717 849.7 719.9 850.3C722.8 850.9 721.6 851.7 730 852C738.4 852.3 769.1 852 776 852" stroke="#f8f800" stroke-width="3.0"/>
<path d="M439 852C489.6 852 725.5 852 776 852" stroke="#808000" stroke-width="2.8"/>
</g>
<text x="434.8" y="856.3" class="t" text-anchor="end">0</text>
<text x="434.8" y="796.8" class="t" text-anchor="end">5</text>
<text x="434.8" y="737.2" class="t" text-anchor="end">10</text>
<text x="434.8" y="677.7" class="t" text-anchor="end">15</text>
<text x="434.8" y="618.2" class="t" text-anchor="end">20</text>
<text x="440" y="869.3" class="t" text-anchor="middle">-6</text>
<text x="495.8" y="869.3" class="t" text-anchor="middle">-4</text>
<text x="551.6" y="869.3" class="t" text-anchor="middle">-2</text>
<text x="607.4" y="869.3" class="t" text-anchor="middle">0</text>
<text x="663.1" y="869.3" class="t" text-anchor="middle">2</text>
<text x="718.9" y="869.3" class="t" text-anchor="middle">4</text>
<text x="774.7" y="869.3" class="t" text-anchor="middle">6</text>
<text x="608" y="890.7" class="b" text-anchor="middle">Energy (eV)</text>
<text transform="translate(411.4,725.2) rotate(-90)" class="b" text-anchor="middle">PDOS</text>
<text x="447.4" y="639.4" class="h" letter-spacing="0.1">Pb-ZnS</text>
<line x1="685.3" y1="630.8" x2="722.7" y2="630.8" stroke="#000000" stroke-width="2.4" stroke-linecap="round"/>
<text x="727.5" y="636.5" class="l">Zn(s)</text>
<line x1="685.3" y1="652.1" x2="722.7" y2="652.1" stroke="#ff0000" stroke-width="2.5" stroke-linecap="round"/>
<text x="727.5" y="657.8" class="l">Zn(p)</text>
<line x1="685.3" y1="673.4" x2="722.7" y2="673.4" stroke="#00e000" stroke-width="3.2" stroke-linecap="round"/>
<text x="727.5" y="679.1" class="l">Zn(d)</text>
<line x1="685.3" y1="694.7" x2="722.7" y2="694.7" stroke="#0000c8" stroke-width="2.8" stroke-linecap="round"/>
<text x="727.5" y="700.4" class="l">S(s)</text>
<line x1="685.3" y1="716" x2="722.7" y2="716" stroke="#00e8e8" stroke-width="3.6" stroke-linecap="round"/>
<text x="727.5" y="721.7" class="l">S(p)</text>
<line x1="685.3" y1="737.3" x2="722.7" y2="737.3" stroke="#ff00ff" stroke-width="2.8" stroke-linecap="round"/>
<text x="727.5" y="743" class="l">Pb(s)</text>
<line x1="685.3" y1="758.6" x2="722.7" y2="758.6" stroke="#f8f800" stroke-width="3.0" stroke-linecap="round"/>
<text x="727.5" y="764.3" class="l">Pb(p)</text>
<line x1="685.3" y1="779.9" x2="722.7" y2="779.9" stroke="#808000" stroke-width="2.8" stroke-linecap="round"/>
<text x="727.5" y="785.6" class="l">Pb(d)</text>
</svg>
</body></html>
